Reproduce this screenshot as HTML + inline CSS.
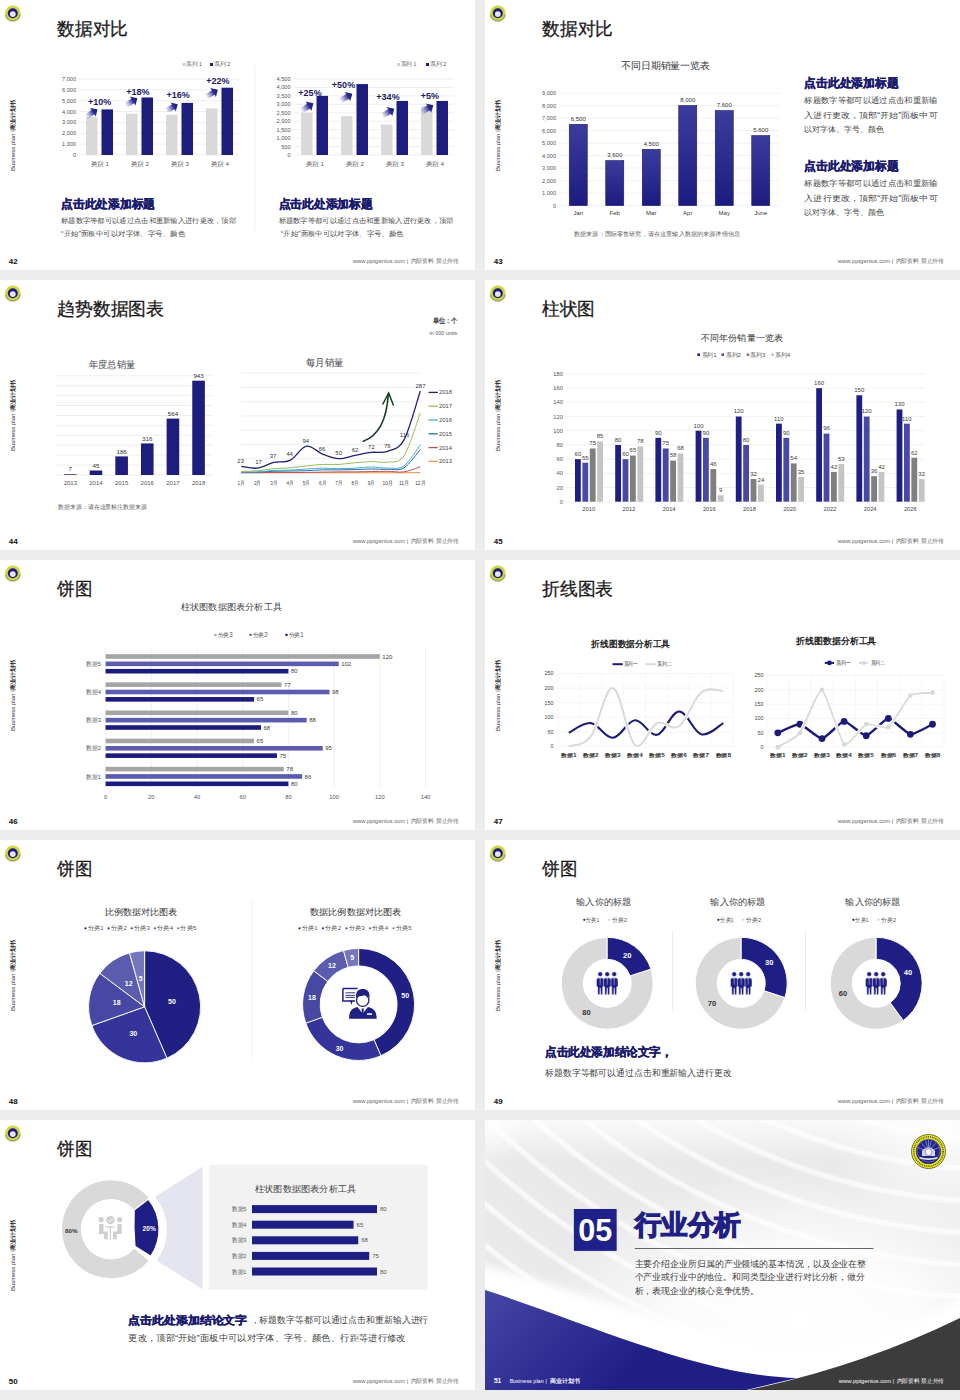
<!DOCTYPE html>
<html><head><meta charset="utf-8"><title>slides</title>
<style>
html,body{margin:0;padding:0;}
body{width:960px;height:1400px;background:#ececec;position:relative;overflow:hidden;font-family:"Liberation Sans",sans-serif;}
.s{position:absolute;width:475px;height:270px;background:#fff;overflow:hidden;}
.s svg{display:block;}
</style></head><body>
<div class="s" style="left:0px;top:0px"><svg width="475" height="270" viewBox="0 0 475 270" font-family="Liberation Sans, sans-serif"><defs>
<linearGradient id="ag" x1="0" y1="0" x2="1" y2="0"><stop offset="0" stop-color="#5a5ab8" stop-opacity="0"/><stop offset="0.35" stop-color="#4a4ab0" stop-opacity="0.55"/><stop offset="0.65" stop-color="#2a2a90"/><stop offset="1" stop-color="#1a1a78"/></linearGradient>
<linearGradient id="bg2" x1="0" y1="0" x2="0" y2="1"><stop offset="0" stop-color="#3b3c9c"/><stop offset="1" stop-color="#1c1c80"/></linearGradient>
</defs><circle cx="12.80" cy="13.30" r="7.90" fill="#cfd83e" /><path d="M5.6000000000000005,14.8 A7.3,7.3 0 0 0 20.0,14.8" fill="none" stroke="#a3a66a" stroke-width="1.6"/><circle cx="12.80" cy="13.30" r="5.00" fill="#1c1c7c" /><circle cx="12.80" cy="14.10" r="2.90" fill="#e6e6f0" /><text x="57.00" y="35.40" font-size="18" fill="#1a1a1a" textLength="71.00" lengthAdjust="spacingAndGlyphs" stroke="#1a1a1a" stroke-width="0.3">数据对比</text><g transform="translate(13,135.3) rotate(-90)"><text x="-35.70" y="1.96" font-size="5.6" fill="#333" textLength="37.30" lengthAdjust="spacingAndGlyphs">Business plan</text><line x1="4.20" y1="-2.20" x2="4.20" y2="2.40" stroke="#444" stroke-width="0.5" /><text x="5.80" y="2.03" font-size="5.8" fill="#222" font-weight="bold" textLength="29.80" lengthAdjust="spacingAndGlyphs">商业计划书</text></g><text x="8.70" y="263.50" font-size="8" fill="#111" font-weight="bold">42</text><text x="352.80" y="263.36" font-size="5.6" fill="#666" textLength="52.50" lengthAdjust="spacingAndGlyphs">www.pptgenius.com</text><text x="406.70" y="263.36" font-size="5.6" fill="#666">|</text><text x="410.50" y="263.36" font-size="5.6" fill="#666" textLength="48.70" lengthAdjust="spacingAndGlyphs">内部资料 禁止外传</text><line x1="79.00" y1="155.00" x2="239.00" y2="155.00" stroke="#e3e3e3" stroke-width="0.6" /><text x="76.00" y="156.96" font-size="5.6" fill="#555555" text-anchor="end">0</text><line x1="79.00" y1="144.14" x2="239.00" y2="144.14" stroke="#e3e3e3" stroke-width="0.6" /><text x="76.00" y="146.10" font-size="5.6" fill="#555555" text-anchor="end">1,000</text><line x1="79.00" y1="133.29" x2="239.00" y2="133.29" stroke="#e3e3e3" stroke-width="0.6" /><text x="76.00" y="135.25" font-size="5.6" fill="#555555" text-anchor="end">2,000</text><line x1="79.00" y1="122.43" x2="239.00" y2="122.43" stroke="#e3e3e3" stroke-width="0.6" /><text x="76.00" y="124.39" font-size="5.6" fill="#555555" text-anchor="end">3,000</text><line x1="79.00" y1="111.57" x2="239.00" y2="111.57" stroke="#e3e3e3" stroke-width="0.6" /><text x="76.00" y="113.53" font-size="5.6" fill="#555555" text-anchor="end">4,000</text><line x1="79.00" y1="100.71" x2="239.00" y2="100.71" stroke="#e3e3e3" stroke-width="0.6" /><text x="76.00" y="102.67" font-size="5.6" fill="#555555" text-anchor="end">5,000</text><line x1="79.00" y1="89.86" x2="239.00" y2="89.86" stroke="#e3e3e3" stroke-width="0.6" /><text x="76.00" y="91.82" font-size="5.6" fill="#555555" text-anchor="end">6,000</text><line x1="79.00" y1="79.00" x2="239.00" y2="79.00" stroke="#e3e3e3" stroke-width="0.6" /><text x="76.00" y="80.96" font-size="5.6" fill="#555555" text-anchor="end">7,000</text><rect x="86.00" y="117.00" width="11.50" height="38.00" fill="#d9d9d9" /><rect x="101.50" y="109.40" width="11.50" height="45.60" fill="#1d1d7e" /><text x="100.00" y="165.53" font-size="5.8" fill="#555555" text-anchor="middle" textLength="18.00" lengthAdjust="spacingAndGlyphs">类别 1</text><rect x="126.00" y="113.74" width="11.50" height="41.26" fill="#d9d9d9" /><rect x="141.50" y="97.46" width="11.50" height="57.54" fill="#1d1d7e" /><text x="140.00" y="165.53" font-size="5.8" fill="#555555" text-anchor="middle" textLength="18.00" lengthAdjust="spacingAndGlyphs">类别 2</text><rect x="166.00" y="114.83" width="11.50" height="40.17" fill="#d9d9d9" /><rect x="181.50" y="102.89" width="11.50" height="52.11" fill="#1d1d7e" /><text x="180.00" y="165.53" font-size="5.8" fill="#555555" text-anchor="middle" textLength="18.00" lengthAdjust="spacingAndGlyphs">类别 3</text><rect x="206.00" y="108.31" width="11.50" height="46.69" fill="#d9d9d9" /><rect x="221.50" y="87.69" width="11.50" height="67.31" fill="#1d1d7e" /><text x="220.00" y="165.53" font-size="5.8" fill="#555555" text-anchor="middle" textLength="18.00" lengthAdjust="spacingAndGlyphs">类别 4</text><text x="99.60" y="104.95" font-size="9" fill="#1b1b66" font-weight="bold" text-anchor="middle">+10%</text><text x="137.80" y="94.95" font-size="9" fill="#1b1b66" font-weight="bold" text-anchor="middle">+18%</text><text x="178.20" y="98.15" font-size="9" fill="#1b1b66" font-weight="bold" text-anchor="middle">+16%</text><text x="217.80" y="84.45" font-size="9" fill="#1b1b66" font-weight="bold" text-anchor="middle">+22%</text><g transform="translate(86.00,117.00) rotate(-34.6) scale(1.152)"><path d="M0,-2.2 L7.4,-2.4 L7.2,-4.6 L12,0 L7.2,4.6 L7.4,2.4 L0,2.2 Z" fill="url(#ag)"/></g><g transform="translate(125.50,105.50) rotate(-31.7) scale(1.158)"><path d="M0,-2.2 L7.4,-2.4 L7.2,-4.6 L12,0 L7.2,4.6 L7.4,2.4 L0,2.2 Z" fill="url(#ag)"/></g><g transform="translate(166.00,111.00) rotate(-30.0) scale(1.133)"><path d="M0,-2.2 L7.4,-2.4 L7.2,-4.6 L12,0 L7.2,4.6 L7.4,2.4 L0,2.2 Z" fill="url(#ag)"/></g><g transform="translate(206.00,97.00) rotate(-31.7) scale(1.158)"><path d="M0,-2.2 L7.4,-2.4 L7.2,-4.6 L12,0 L7.2,4.6 L7.4,2.4 L0,2.2 Z" fill="url(#ag)"/></g><line x1="294.00" y1="155.00" x2="454.00" y2="155.00" stroke="#e3e3e3" stroke-width="0.6" /><text x="290.50" y="156.96" font-size="5.6" fill="#555555" text-anchor="end">0</text><line x1="294.00" y1="146.56" x2="454.00" y2="146.56" stroke="#e3e3e3" stroke-width="0.6" /><text x="290.50" y="148.52" font-size="5.6" fill="#555555" text-anchor="end">500</text><line x1="294.00" y1="138.11" x2="454.00" y2="138.11" stroke="#e3e3e3" stroke-width="0.6" /><text x="290.50" y="140.07" font-size="5.6" fill="#555555" text-anchor="end">1,000</text><line x1="294.00" y1="129.67" x2="454.00" y2="129.67" stroke="#e3e3e3" stroke-width="0.6" /><text x="290.50" y="131.63" font-size="5.6" fill="#555555" text-anchor="end">1,500</text><line x1="294.00" y1="121.22" x2="454.00" y2="121.22" stroke="#e3e3e3" stroke-width="0.6" /><text x="290.50" y="123.18" font-size="5.6" fill="#555555" text-anchor="end">2,000</text><line x1="294.00" y1="112.78" x2="454.00" y2="112.78" stroke="#e3e3e3" stroke-width="0.6" /><text x="290.50" y="114.74" font-size="5.6" fill="#555555" text-anchor="end">2,500</text><line x1="294.00" y1="104.33" x2="454.00" y2="104.33" stroke="#e3e3e3" stroke-width="0.6" /><text x="290.50" y="106.29" font-size="5.6" fill="#555555" text-anchor="end">3,000</text><line x1="294.00" y1="95.89" x2="454.00" y2="95.89" stroke="#e3e3e3" stroke-width="0.6" /><text x="290.50" y="97.85" font-size="5.6" fill="#555555" text-anchor="end">3,500</text><line x1="294.00" y1="87.44" x2="454.00" y2="87.44" stroke="#e3e3e3" stroke-width="0.6" /><text x="290.50" y="89.40" font-size="5.6" fill="#555555" text-anchor="end">4,000</text><line x1="294.00" y1="79.00" x2="454.00" y2="79.00" stroke="#e3e3e3" stroke-width="0.6" /><text x="290.50" y="80.96" font-size="5.6" fill="#555555" text-anchor="end">4,500</text><rect x="301.00" y="112.78" width="11.50" height="42.22" fill="#d9d9d9" /><rect x="316.50" y="95.89" width="11.50" height="59.11" fill="#1d1d7e" /><text x="315.00" y="165.53" font-size="5.8" fill="#555555" text-anchor="middle" textLength="18.00" lengthAdjust="spacingAndGlyphs">类别 1</text><rect x="341.00" y="116.16" width="11.50" height="38.84" fill="#d9d9d9" /><rect x="356.50" y="84.07" width="11.50" height="70.93" fill="#1d1d7e" /><text x="355.00" y="165.53" font-size="5.8" fill="#555555" text-anchor="middle" textLength="18.00" lengthAdjust="spacingAndGlyphs">类别 2</text><rect x="381.00" y="124.60" width="11.50" height="30.40" fill="#d9d9d9" /><rect x="396.50" y="100.96" width="11.50" height="54.04" fill="#1d1d7e" /><text x="395.00" y="165.53" font-size="5.8" fill="#555555" text-anchor="middle" textLength="18.00" lengthAdjust="spacingAndGlyphs">类别 3</text><rect x="421.00" y="106.02" width="11.50" height="48.98" fill="#d9d9d9" /><rect x="436.50" y="100.96" width="11.50" height="54.04" fill="#1d1d7e" /><text x="435.00" y="165.53" font-size="5.8" fill="#555555" text-anchor="middle" textLength="18.00" lengthAdjust="spacingAndGlyphs">类别 4</text><text x="310.00" y="95.65" font-size="9" fill="#1b1b66" font-weight="bold" text-anchor="middle">+25%</text><text x="343.50" y="88.15" font-size="9" fill="#1b1b66" font-weight="bold" text-anchor="middle">+50%</text><text x="388.00" y="100.15" font-size="9" fill="#1b1b66" font-weight="bold" text-anchor="middle">+34%</text><text x="430.00" y="99.15" font-size="9" fill="#1b1b66" font-weight="bold" text-anchor="middle">+5%</text><g transform="translate(301.00,111.00) rotate(-32.0) scale(1.217)"><path d="M0,-2.2 L7.4,-2.4 L7.2,-4.6 L12,0 L7.2,4.6 L7.4,2.4 L0,2.2 Z" fill="url(#ag)"/></g><g transform="translate(340.00,101.00) rotate(-30.5) scale(1.192)"><path d="M0,-2.2 L7.4,-2.4 L7.2,-4.6 L12,0 L7.2,4.6 L7.4,2.4 L0,2.2 Z" fill="url(#ag)"/></g><g transform="translate(382.00,116.00) rotate(-30.5) scale(1.192)"><path d="M0,-2.2 L7.4,-2.4 L7.2,-4.6 L12,0 L7.2,4.6 L7.4,2.4 L0,2.2 Z" fill="url(#ag)"/></g><g transform="translate(421.00,112.50) rotate(-30.5) scale(1.192)"><path d="M0,-2.2 L7.4,-2.4 L7.2,-4.6 L12,0 L7.2,4.6 L7.4,2.4 L0,2.2 Z" fill="url(#ag)"/></g><rect x="182.50" y="63.00" width="3.00" height="3.00" fill="#d0d0d0" /><text x="186.00" y="66.46" font-size="5.6" fill="#666" textLength="16.00" lengthAdjust="spacingAndGlyphs">系列 1</text><rect x="210.00" y="63.00" width="3.00" height="3.00" fill="#1d1d7e" /><text x="213.50" y="66.46" font-size="5.6" fill="#666" textLength="17.00" lengthAdjust="spacingAndGlyphs">系列 2</text><rect x="397.00" y="63.00" width="3.00" height="3.00" fill="#d0d0d0" /><text x="400.50" y="66.46" font-size="5.6" fill="#666" textLength="16.00" lengthAdjust="spacingAndGlyphs">系列 1</text><rect x="426.00" y="63.00" width="3.00" height="3.00" fill="#1d1d7e" /><text x="429.50" y="66.46" font-size="5.6" fill="#666" textLength="17.00" lengthAdjust="spacingAndGlyphs">系列 2</text><line x1="255.00" y1="64.50" x2="255.00" y2="231.50" stroke="#ebebeb" stroke-width="0.8" /><text x="61.00" y="207.72" font-size="11.5" fill="#1b1b6e" font-weight="bold" textLength="94.00" lengthAdjust="spacingAndGlyphs" stroke="#1b1b6e" stroke-width="0.4">点击此处添加标题</text><text x="61.00" y="222.52" font-size="7.2" fill="#4a4a4a" textLength="175.00" lengthAdjust="spacingAndGlyphs">标题数字等都可以通过点击和重新输入进行更改，顶部</text><text x="61.00" y="235.52" font-size="7.2" fill="#4a4a4a" textLength="124.00" lengthAdjust="spacingAndGlyphs">“开始”面板中可以对字体、字号、颜色</text><text x="278.60" y="207.72" font-size="11.5" fill="#1b1b6e" font-weight="bold" textLength="94.00" lengthAdjust="spacingAndGlyphs" stroke="#1b1b6e" stroke-width="0.4">点击此处添加标题</text><text x="278.60" y="222.52" font-size="7.2" fill="#4a4a4a" textLength="175.00" lengthAdjust="spacingAndGlyphs">标题数字等都可以通过点击和重新输入进行更改，顶部</text><text x="280.80" y="235.52" font-size="7.2" fill="#4a4a4a" textLength="122.50" lengthAdjust="spacingAndGlyphs">“开始”面板中可以对字体、字号、颜色</text></svg></div><div class="s" style="left:485px;top:0px"><svg width="475" height="270" viewBox="485 0 475 270" font-family="Liberation Sans, sans-serif"><circle cx="497.80" cy="13.30" r="7.90" fill="#cfd83e" /><path d="M490.6,14.8 A7.3,7.3 0 0 0 505.0,14.8" fill="none" stroke="#a3a66a" stroke-width="1.6"/><circle cx="497.80" cy="13.30" r="5.00" fill="#1c1c7c" /><circle cx="497.80" cy="14.10" r="2.90" fill="#e6e6f0" /><text x="542.00" y="35.40" font-size="18" fill="#1a1a1a" textLength="71.00" lengthAdjust="spacingAndGlyphs" stroke="#1a1a1a" stroke-width="0.3">数据对比</text><g transform="translate(498,135.3) rotate(-90)"><text x="-35.70" y="1.96" font-size="5.6" fill="#333" textLength="37.30" lengthAdjust="spacingAndGlyphs">Business plan</text><line x1="4.20" y1="-2.20" x2="4.20" y2="2.40" stroke="#444" stroke-width="0.5" /><text x="5.80" y="2.03" font-size="5.8" fill="#222" font-weight="bold" textLength="29.80" lengthAdjust="spacingAndGlyphs">商业计划书</text></g><text x="493.70" y="263.50" font-size="8" fill="#111" font-weight="bold">43</text><text x="837.80" y="263.36" font-size="5.6" fill="#666" textLength="52.50" lengthAdjust="spacingAndGlyphs">www.pptgenius.com</text><text x="891.70" y="263.36" font-size="5.6" fill="#666">|</text><text x="895.50" y="263.36" font-size="5.6" fill="#666" textLength="48.70" lengthAdjust="spacingAndGlyphs">内部资料 禁止外传</text><text x="665.50" y="69.36" font-size="9.6" fill="#333" text-anchor="middle" textLength="89.00" lengthAdjust="spacingAndGlyphs">不同日期销量一览表</text><line x1="560.00" y1="205.60" x2="779.00" y2="205.60" stroke="#e6e6e6" stroke-width="0.6" /><text x="556.00" y="207.56" font-size="5.6" fill="#555555" text-anchor="end">0</text><line x1="560.00" y1="193.10" x2="779.00" y2="193.10" stroke="#e6e6e6" stroke-width="0.6" /><text x="556.00" y="195.06" font-size="5.6" fill="#555555" text-anchor="end">1,000</text><line x1="560.00" y1="180.60" x2="779.00" y2="180.60" stroke="#e6e6e6" stroke-width="0.6" /><text x="556.00" y="182.56" font-size="5.6" fill="#555555" text-anchor="end">2,000</text><line x1="560.00" y1="168.10" x2="779.00" y2="168.10" stroke="#e6e6e6" stroke-width="0.6" /><text x="556.00" y="170.06" font-size="5.6" fill="#555555" text-anchor="end">3,000</text><line x1="560.00" y1="155.60" x2="779.00" y2="155.60" stroke="#e6e6e6" stroke-width="0.6" /><text x="556.00" y="157.56" font-size="5.6" fill="#555555" text-anchor="end">4,000</text><line x1="560.00" y1="143.10" x2="779.00" y2="143.10" stroke="#e6e6e6" stroke-width="0.6" /><text x="556.00" y="145.06" font-size="5.6" fill="#555555" text-anchor="end">5,000</text><line x1="560.00" y1="130.60" x2="779.00" y2="130.60" stroke="#e6e6e6" stroke-width="0.6" /><text x="556.00" y="132.56" font-size="5.6" fill="#555555" text-anchor="end">6,000</text><line x1="560.00" y1="118.10" x2="779.00" y2="118.10" stroke="#e6e6e6" stroke-width="0.6" /><text x="556.00" y="120.06" font-size="5.6" fill="#555555" text-anchor="end">7,000</text><line x1="560.00" y1="105.60" x2="779.00" y2="105.60" stroke="#e6e6e6" stroke-width="0.6" /><text x="556.00" y="107.56" font-size="5.6" fill="#555555" text-anchor="end">8,000</text><line x1="560.00" y1="93.10" x2="779.00" y2="93.10" stroke="#e6e6e6" stroke-width="0.6" /><text x="556.00" y="95.06" font-size="5.6" fill="#555555" text-anchor="end">9,000</text><rect x="569.25" y="124.35" width="18.00" height="81.25" fill="url(#bg2)" stroke="#141470" stroke-width="0.6"/><text x="578.25" y="120.95" font-size="6" fill="#333" text-anchor="middle">6,500</text><text x="578.25" y="215.10" font-size="6" fill="#333" text-anchor="middle">Jan</text><rect x="605.75" y="160.60" width="18.00" height="45.00" fill="url(#bg2)" stroke="#141470" stroke-width="0.6"/><text x="614.75" y="157.20" font-size="6" fill="#333" text-anchor="middle">3,600</text><text x="614.75" y="215.10" font-size="6" fill="#333" text-anchor="middle">Feb</text><rect x="642.25" y="149.35" width="18.00" height="56.25" fill="url(#bg2)" stroke="#141470" stroke-width="0.6"/><text x="651.25" y="145.95" font-size="6" fill="#333" text-anchor="middle">4,500</text><text x="651.25" y="215.10" font-size="6" fill="#333" text-anchor="middle">Mar</text><rect x="678.75" y="105.60" width="18.00" height="100.00" fill="url(#bg2)" stroke="#141470" stroke-width="0.6"/><text x="687.75" y="102.20" font-size="6" fill="#333" text-anchor="middle">8,000</text><text x="687.75" y="215.10" font-size="6" fill="#333" text-anchor="middle">Apr</text><rect x="715.25" y="110.60" width="18.00" height="95.00" fill="url(#bg2)" stroke="#141470" stroke-width="0.6"/><text x="724.25" y="107.20" font-size="6" fill="#333" text-anchor="middle">7,600</text><text x="724.25" y="215.10" font-size="6" fill="#333" text-anchor="middle">May</text><rect x="751.75" y="135.60" width="18.00" height="70.00" fill="url(#bg2)" stroke="#141470" stroke-width="0.6"/><text x="760.75" y="132.20" font-size="6" fill="#333" text-anchor="middle">5,600</text><text x="760.75" y="215.10" font-size="6" fill="#333" text-anchor="middle">June</text><text x="574.00" y="236.03" font-size="5.8" fill="#555" textLength="166.00" lengthAdjust="spacingAndGlyphs">数据来源：国际零售研究，请在这里输入数据的来源详情信息</text><text x="804.40" y="86.86" font-size="11.6" fill="#1b1b6e" font-weight="bold" textLength="94.20" lengthAdjust="spacingAndGlyphs" stroke="#1b1b6e" stroke-width="0.4">点击此处添加标题</text><text x="804.40" y="103.17" font-size="8.2" fill="#444" textLength="133.20" lengthAdjust="spacingAndGlyphs">标题数字等都可以通过点击和重新输</text><text x="804.40" y="117.77" font-size="8.2" fill="#444" textLength="133.20" lengthAdjust="spacingAndGlyphs">入进行更改，顶部“开始”面板中可</text><text x="804.40" y="132.27" font-size="8.2" fill="#444" textLength="79.50" lengthAdjust="spacingAndGlyphs">以对字体、字号、颜色</text><text x="804.40" y="169.86" font-size="11.6" fill="#1b1b6e" font-weight="bold" textLength="94.20" lengthAdjust="spacingAndGlyphs" stroke="#1b1b6e" stroke-width="0.4">点击此处添加标题</text><text x="804.40" y="185.87" font-size="8.2" fill="#444" textLength="133.20" lengthAdjust="spacingAndGlyphs">标题数字等都可以通过点击和重新输</text><text x="804.40" y="200.67" font-size="8.2" fill="#444" textLength="133.20" lengthAdjust="spacingAndGlyphs">入进行更改，顶部“开始”面板中可</text><text x="804.40" y="215.07" font-size="8.2" fill="#444" textLength="79.50" lengthAdjust="spacingAndGlyphs">以对字体、字号、颜色</text></svg></div><div class="s" style="left:0px;top:280px"><svg width="475" height="270" viewBox="0 280 475 270" font-family="Liberation Sans, sans-serif"><circle cx="12.80" cy="293.30" r="7.90" fill="#cfd83e" /><path d="M5.6000000000000005,294.8 A7.3,7.3 0 0 0 20.0,294.8" fill="none" stroke="#a3a66a" stroke-width="1.6"/><circle cx="12.80" cy="293.30" r="5.00" fill="#1c1c7c" /><circle cx="12.80" cy="294.10" r="2.90" fill="#e6e6f0" /><text x="57.00" y="315.40" font-size="18" fill="#1a1a1a" textLength="107.00" lengthAdjust="spacingAndGlyphs" stroke="#1a1a1a" stroke-width="0.3">趋势数据图表</text><g transform="translate(13,415.3) rotate(-90)"><text x="-35.70" y="1.96" font-size="5.6" fill="#333" textLength="37.30" lengthAdjust="spacingAndGlyphs">Business plan</text><line x1="4.20" y1="-2.20" x2="4.20" y2="2.40" stroke="#444" stroke-width="0.5" /><text x="5.80" y="2.03" font-size="5.8" fill="#222" font-weight="bold" textLength="29.80" lengthAdjust="spacingAndGlyphs">商业计划书</text></g><text x="8.70" y="543.50" font-size="8" fill="#111" font-weight="bold">44</text><text x="352.80" y="543.36" font-size="5.6" fill="#666" textLength="52.50" lengthAdjust="spacingAndGlyphs">www.pptgenius.com</text><text x="406.70" y="543.36" font-size="5.6" fill="#666">|</text><text x="410.50" y="543.36" font-size="5.6" fill="#666" textLength="48.70" lengthAdjust="spacingAndGlyphs">内部资料 禁止外传</text><text x="112.00" y="368.32" font-size="9.5" fill="#444" text-anchor="middle" textLength="46.00" lengthAdjust="spacingAndGlyphs">年度总销量</text><line x1="56.00" y1="475.00" x2="212.50" y2="475.00" stroke="#e3e3e3" stroke-width="0.6" /><line x1="56.00" y1="465.07" x2="212.50" y2="465.07" stroke="#e3e3e3" stroke-width="0.6" /><line x1="56.00" y1="455.15" x2="212.50" y2="455.15" stroke="#e3e3e3" stroke-width="0.6" /><line x1="56.00" y1="445.23" x2="212.50" y2="445.23" stroke="#e3e3e3" stroke-width="0.6" /><line x1="56.00" y1="435.30" x2="212.50" y2="435.30" stroke="#e3e3e3" stroke-width="0.6" /><line x1="56.00" y1="425.38" x2="212.50" y2="425.38" stroke="#e3e3e3" stroke-width="0.6" /><line x1="56.00" y1="415.45" x2="212.50" y2="415.45" stroke="#e3e3e3" stroke-width="0.6" /><line x1="56.00" y1="405.52" x2="212.50" y2="405.52" stroke="#e3e3e3" stroke-width="0.6" /><line x1="56.00" y1="395.60" x2="212.50" y2="395.60" stroke="#e3e3e3" stroke-width="0.6" /><line x1="56.00" y1="385.68" x2="212.50" y2="385.68" stroke="#e3e3e3" stroke-width="0.6" /><line x1="56.00" y1="375.75" x2="212.50" y2="375.75" stroke="#e3e3e3" stroke-width="0.6" /><rect x="64.03" y="474.30" width="12.60" height="0.70" fill="#1d1d7e" /><text x="70.33" y="471.47" font-size="6.2" fill="#333" text-anchor="middle">7</text><text x="70.33" y="484.70" font-size="6" fill="#555" text-anchor="middle">2013</text><rect x="89.67" y="470.50" width="12.60" height="4.50" fill="#1d1d7e" /><text x="95.97" y="467.67" font-size="6.2" fill="#333" text-anchor="middle">45</text><text x="95.97" y="484.70" font-size="6" fill="#555" text-anchor="middle">2014</text><rect x="115.33" y="456.40" width="12.60" height="18.60" fill="#1d1d7e" /><text x="121.62" y="453.57" font-size="6.2" fill="#333" text-anchor="middle">186</text><text x="121.62" y="484.70" font-size="6" fill="#555" text-anchor="middle">2015</text><rect x="140.97" y="443.40" width="12.60" height="31.60" fill="#1d1d7e" /><text x="147.27" y="440.57" font-size="6.2" fill="#333" text-anchor="middle">316</text><text x="147.27" y="484.70" font-size="6" fill="#555" text-anchor="middle">2016</text><rect x="166.62" y="418.60" width="12.60" height="56.40" fill="#1d1d7e" /><text x="172.93" y="415.77" font-size="6.2" fill="#333" text-anchor="middle">564</text><text x="172.93" y="484.70" font-size="6" fill="#555" text-anchor="middle">2017</text><rect x="192.27" y="380.70" width="12.60" height="94.30" fill="#1d1d7e" /><text x="198.57" y="377.87" font-size="6.2" fill="#333" text-anchor="middle">943</text><text x="198.57" y="484.70" font-size="6" fill="#555" text-anchor="middle">2018</text><text x="58.00" y="508.83" font-size="5.8" fill="#555" textLength="89.00" lengthAdjust="spacingAndGlyphs">数据来源：请在这里标注数据来源</text><text x="457.70" y="323.27" font-size="6.5" fill="#333" font-weight="bold" text-anchor="end" textLength="25.00" lengthAdjust="spacingAndGlyphs">单位：个</text><text x="457.20" y="334.59" font-size="5.4" fill="#555" text-anchor="end">in 000 units</text><text x="324.70" y="366.32" font-size="9.5" fill="#444" text-anchor="middle" textLength="37.50" lengthAdjust="spacingAndGlyphs">每月销量</text><line x1="240.70" y1="473.00" x2="421.90" y2="473.00" stroke="#e3e3e3" stroke-width="0.6" /><line x1="240.70" y1="458.71" x2="421.90" y2="458.71" stroke="#e3e3e3" stroke-width="0.6" /><line x1="240.70" y1="444.43" x2="421.90" y2="444.43" stroke="#e3e3e3" stroke-width="0.6" /><line x1="240.70" y1="430.14" x2="421.90" y2="430.14" stroke="#e3e3e3" stroke-width="0.6" /><line x1="240.70" y1="415.86" x2="421.90" y2="415.86" stroke="#e3e3e3" stroke-width="0.6" /><line x1="240.70" y1="401.57" x2="421.90" y2="401.57" stroke="#e3e3e3" stroke-width="0.6" /><line x1="240.70" y1="387.29" x2="421.90" y2="387.29" stroke="#e3e3e3" stroke-width="0.6" /><line x1="240.70" y1="373.00" x2="421.90" y2="373.00" stroke="#e3e3e3" stroke-width="0.6" /><text x="241.20" y="485.40" font-size="6" fill="#444" text-anchor="middle" textLength="7.20" lengthAdjust="spacingAndGlyphs">1月</text><text x="257.48" y="485.40" font-size="6" fill="#444" text-anchor="middle" textLength="7.20" lengthAdjust="spacingAndGlyphs">2月</text><text x="273.76" y="485.40" font-size="6" fill="#444" text-anchor="middle" textLength="7.20" lengthAdjust="spacingAndGlyphs">3月</text><text x="290.04" y="485.40" font-size="6" fill="#444" text-anchor="middle" textLength="7.20" lengthAdjust="spacingAndGlyphs">4月</text><text x="306.32" y="485.40" font-size="6" fill="#444" text-anchor="middle" textLength="7.20" lengthAdjust="spacingAndGlyphs">5月</text><text x="322.60" y="485.40" font-size="6" fill="#444" text-anchor="middle" textLength="7.20" lengthAdjust="spacingAndGlyphs">6月</text><text x="338.88" y="485.40" font-size="6" fill="#444" text-anchor="middle" textLength="7.20" lengthAdjust="spacingAndGlyphs">7月</text><text x="355.16" y="485.40" font-size="6" fill="#444" text-anchor="middle" textLength="7.20" lengthAdjust="spacingAndGlyphs">8月</text><text x="371.44" y="485.40" font-size="6" fill="#444" text-anchor="middle" textLength="7.20" lengthAdjust="spacingAndGlyphs">9月</text><text x="387.72" y="485.40" font-size="6" fill="#444" text-anchor="middle" textLength="10.20" lengthAdjust="spacingAndGlyphs">10月</text><text x="404.00" y="485.40" font-size="6" fill="#444" text-anchor="middle" textLength="10.20" lengthAdjust="spacingAndGlyphs">11月</text><text x="420.28" y="485.40" font-size="6" fill="#444" text-anchor="middle" textLength="10.20" lengthAdjust="spacingAndGlyphs">12月</text><path d="M241.20,472.71 C243.91,472.71 252.05,472.71 257.48,472.71 C262.91,472.71 268.33,472.71 273.76,472.71 C279.19,472.71 284.61,472.71 290.04,472.71 C295.47,472.71 300.89,472.71 306.32,472.71 C311.75,472.71 317.17,472.71 322.60,472.71 C328.03,472.71 333.45,472.71 338.88,472.71 C344.31,472.71 349.73,472.71 355.16,472.71 C360.59,472.71 366.01,472.71 371.44,472.71 C376.87,472.71 382.29,472.71 387.72,472.71 C393.15,472.71 398.57,472.76 404.00,472.71 C409.43,472.67 417.57,472.48 420.28,472.43" fill="none" stroke="#f79646" stroke-width="1.0"/><path d="M241.20,472.71 C243.91,472.71 252.05,472.76 257.48,472.71 C262.91,472.67 268.33,472.48 273.76,472.43 C279.19,472.38 284.61,472.43 290.04,472.43 C295.47,472.43 300.89,472.48 306.32,472.43 C311.75,472.38 317.17,472.24 322.60,472.14 C328.03,472.05 333.45,471.90 338.88,471.86 C344.31,471.81 349.73,471.90 355.16,471.86 C360.59,471.81 366.01,471.67 371.44,471.57 C376.87,471.48 382.29,471.24 387.72,471.29 C393.15,471.33 398.57,472.62 404.00,471.86 C409.43,471.10 417.57,467.57 420.28,466.71" fill="none" stroke="#c0504d" stroke-width="1.0"/><path d="M241.20,472.43 C243.91,472.38 252.05,472.33 257.48,472.14 C262.91,471.95 268.33,471.48 273.76,471.29 C279.19,471.10 284.61,471.10 290.04,471.00 C295.47,470.90 300.89,470.90 306.32,470.71 C311.75,470.52 317.17,470.00 322.60,469.86 C328.03,469.71 333.45,469.90 338.88,469.86 C344.31,469.81 349.73,469.71 355.16,469.57 C360.59,469.43 366.01,469.05 371.44,469.00 C376.87,468.95 382.29,469.48 387.72,469.29 C393.15,469.10 398.57,471.14 404.00,467.86 C409.43,464.57 417.57,452.62 420.28,449.57" fill="none" stroke="#1f6fb4" stroke-width="1.0"/><path d="M241.20,472.14 C243.91,472.10 252.05,472.14 257.48,471.86 C262.91,471.57 268.33,470.71 273.76,470.43 C279.19,470.14 284.61,470.38 290.04,470.14 C295.47,469.90 300.89,469.33 306.32,469.00 C311.75,468.67 317.17,468.19 322.60,468.14 C328.03,468.10 333.45,468.71 338.88,468.71 C344.31,468.71 349.73,468.43 355.16,468.14 C360.59,467.86 366.01,467.00 371.44,467.00 C376.87,467.00 382.29,468.33 387.72,468.14 C393.15,467.95 398.57,469.71 404.00,465.86 C409.43,462.00 417.57,448.48 420.28,445.00" fill="none" stroke="#4bacc6" stroke-width="1.0"/><path d="M241.20,471.57 C243.91,471.43 252.05,471.19 257.48,470.71 C262.91,470.24 268.33,469.19 273.76,468.71 C279.19,468.24 284.61,468.33 290.04,467.86 C295.47,467.38 300.89,466.43 306.32,465.86 C311.75,465.29 317.17,464.67 322.60,464.43 C328.03,464.19 333.45,464.71 338.88,464.43 C344.31,464.14 349.73,463.19 355.16,462.71 C360.59,462.24 366.01,461.67 371.44,461.57 C376.87,461.48 382.29,463.10 387.72,462.14 C393.15,461.19 398.57,464.05 404.00,455.86 C409.43,447.67 417.57,420.14 420.28,413.00" fill="none" stroke="#9bbb59" stroke-width="1.0"/><path d="M241.20,466.43 C243.91,466.71 252.05,468.81 257.48,468.14 C262.91,467.48 268.33,463.71 273.76,462.43 C279.19,461.14 284.61,463.14 290.04,460.43 C295.47,457.71 300.89,447.19 306.32,446.14 C311.75,445.10 317.17,452.05 322.60,454.14 C328.03,456.24 333.45,458.52 338.88,458.71 C344.31,458.90 349.73,456.33 355.16,455.29 C360.59,454.24 366.01,453.10 371.44,452.43 C376.87,451.76 382.29,453.38 387.72,451.29 C393.15,449.19 398.57,449.90 404.00,439.86 C409.43,429.81 417.57,399.14 420.28,391.00" fill="none" stroke="#1f1f7a" stroke-width="1.3"/><text x="240.70" y="462.80" font-size="6" fill="#333" text-anchor="middle">23</text><text x="258.50" y="464.10" font-size="6" fill="#333" text-anchor="middle">17</text><text x="273.00" y="458.10" font-size="6" fill="#333" text-anchor="middle">37</text><text x="289.60" y="456.10" font-size="6" fill="#333" text-anchor="middle">44</text><text x="305.80" y="442.90" font-size="6" fill="#333" text-anchor="middle">94</text><text x="322.00" y="450.80" font-size="6" fill="#333" text-anchor="middle">66</text><text x="338.70" y="454.80" font-size="6" fill="#333" text-anchor="middle">50</text><text x="355.00" y="452.10" font-size="6" fill="#333" text-anchor="middle">62</text><text x="371.40" y="449.00" font-size="6" fill="#333" text-anchor="middle">72</text><text x="387.30" y="447.60" font-size="6" fill="#333" text-anchor="middle">76</text><text x="404.60" y="437.10" font-size="6" fill="#333" text-anchor="middle">116</text><text x="420.50" y="387.60" font-size="6" fill="#333" text-anchor="middle">287</text><line x1="428.50" y1="392.40" x2="437.80" y2="392.40" stroke="#1f1f7a" stroke-width="1.3" /><text x="439.00" y="394.43" font-size="5.8" fill="#444">2018</text><line x1="428.50" y1="406.20" x2="437.80" y2="406.20" stroke="#9bbb59" stroke-width="1.3" /><text x="439.00" y="408.23" font-size="5.8" fill="#444">2017</text><line x1="428.50" y1="420.00" x2="437.80" y2="420.00" stroke="#4bacc6" stroke-width="1.3" /><text x="439.00" y="422.03" font-size="5.8" fill="#444">2016</text><line x1="428.50" y1="433.80" x2="437.80" y2="433.80" stroke="#1f6fb4" stroke-width="1.3" /><text x="439.00" y="435.83" font-size="5.8" fill="#444">2015</text><line x1="428.50" y1="447.60" x2="437.80" y2="447.60" stroke="#c0504d" stroke-width="1.3" /><text x="439.00" y="449.63" font-size="5.8" fill="#444">2014</text><line x1="428.50" y1="461.40" x2="437.80" y2="461.40" stroke="#f79646" stroke-width="1.3" /><text x="439.00" y="463.43" font-size="5.8" fill="#444">2013</text><path d="M363.3,441.3 C375,437 386.5,425 388.3,394" fill="none" stroke="#123d20" stroke-width="1.6" stroke-linecap="round"/><path d="M382.6,404.5 L388.7,393 L393.5,405.5" fill="none" stroke="#123d20" stroke-width="1.5" stroke-linejoin="miter"/></svg></div><div class="s" style="left:485px;top:280px"><svg width="475" height="270" viewBox="485 280 475 270" font-family="Liberation Sans, sans-serif"><circle cx="497.80" cy="293.30" r="7.90" fill="#cfd83e" /><path d="M490.6,294.8 A7.3,7.3 0 0 0 505.0,294.8" fill="none" stroke="#a3a66a" stroke-width="1.6"/><circle cx="497.80" cy="293.30" r="5.00" fill="#1c1c7c" /><circle cx="497.80" cy="294.10" r="2.90" fill="#e6e6f0" /><text x="542.00" y="315.40" font-size="18" fill="#1a1a1a" textLength="53.00" lengthAdjust="spacingAndGlyphs" stroke="#1a1a1a" stroke-width="0.3">柱状图</text><g transform="translate(498,415.3) rotate(-90)"><text x="-35.70" y="1.96" font-size="5.6" fill="#333" textLength="37.30" lengthAdjust="spacingAndGlyphs">Business plan</text><line x1="4.20" y1="-2.20" x2="4.20" y2="2.40" stroke="#444" stroke-width="0.5" /><text x="5.80" y="2.03" font-size="5.8" fill="#222" font-weight="bold" textLength="29.80" lengthAdjust="spacingAndGlyphs">商业计划书</text></g><text x="493.70" y="543.50" font-size="8" fill="#111" font-weight="bold">45</text><text x="837.80" y="543.36" font-size="5.6" fill="#666" textLength="52.50" lengthAdjust="spacingAndGlyphs">www.pptgenius.com</text><text x="891.70" y="543.36" font-size="5.6" fill="#666">|</text><text x="895.50" y="543.36" font-size="5.6" fill="#666" textLength="48.70" lengthAdjust="spacingAndGlyphs">内部资料 禁止外传</text><text x="742.00" y="341.45" font-size="9" fill="#333" text-anchor="middle" textLength="81.30" lengthAdjust="spacingAndGlyphs">不同年份销量一览表</text><rect x="697.40" y="353.40" width="2.60" height="2.60" fill="#1e1e84" /><text x="701.50" y="356.87" font-size="6.2" fill="#555" textLength="15.10" lengthAdjust="spacingAndGlyphs">系列1</text><rect x="721.50" y="353.40" width="2.60" height="2.60" fill="#4848a6" /><text x="725.50" y="356.87" font-size="6.2" fill="#555" textLength="15.50" lengthAdjust="spacingAndGlyphs">系列2</text><rect x="746.70" y="353.40" width="2.60" height="2.60" fill="#7f7f7f" /><text x="750.00" y="356.87" font-size="6.2" fill="#555" textLength="15.60" lengthAdjust="spacingAndGlyphs">系列3</text><rect x="771.30" y="353.40" width="2.60" height="2.60" fill="#c4c4c4" /><text x="774.80" y="356.87" font-size="6.2" fill="#555" textLength="15.40" lengthAdjust="spacingAndGlyphs">系列4</text><line x1="566.00" y1="501.70" x2="925.00" y2="501.70" stroke="#e8e8e8" stroke-width="0.6" /><text x="563.00" y="503.73" font-size="5.8" fill="#555555" text-anchor="end">0</text><line x1="566.00" y1="487.51" x2="925.00" y2="487.51" stroke="#e8e8e8" stroke-width="0.6" /><text x="563.00" y="489.54" font-size="5.8" fill="#555555" text-anchor="end">20</text><line x1="566.00" y1="473.32" x2="925.00" y2="473.32" stroke="#e8e8e8" stroke-width="0.6" /><text x="563.00" y="475.35" font-size="5.8" fill="#555555" text-anchor="end">40</text><line x1="566.00" y1="459.13" x2="925.00" y2="459.13" stroke="#e8e8e8" stroke-width="0.6" /><text x="563.00" y="461.16" font-size="5.8" fill="#555555" text-anchor="end">60</text><line x1="566.00" y1="444.94" x2="925.00" y2="444.94" stroke="#e8e8e8" stroke-width="0.6" /><text x="563.00" y="446.97" font-size="5.8" fill="#555555" text-anchor="end">80</text><line x1="566.00" y1="430.75" x2="925.00" y2="430.75" stroke="#e8e8e8" stroke-width="0.6" /><text x="563.00" y="432.78" font-size="5.8" fill="#555555" text-anchor="end">100</text><line x1="566.00" y1="416.56" x2="925.00" y2="416.56" stroke="#e8e8e8" stroke-width="0.6" /><text x="563.00" y="418.59" font-size="5.8" fill="#555555" text-anchor="end">120</text><line x1="566.00" y1="402.37" x2="925.00" y2="402.37" stroke="#e8e8e8" stroke-width="0.6" /><text x="563.00" y="404.40" font-size="5.8" fill="#555555" text-anchor="end">140</text><line x1="566.00" y1="388.18" x2="925.00" y2="388.18" stroke="#e8e8e8" stroke-width="0.6" /><text x="563.00" y="390.21" font-size="5.8" fill="#555555" text-anchor="end">160</text><line x1="566.00" y1="373.99" x2="925.00" y2="373.99" stroke="#e8e8e8" stroke-width="0.6" /><text x="563.00" y="376.02" font-size="5.8" fill="#555555" text-anchor="end">180</text><rect x="575.00" y="459.13" width="5.80" height="42.57" fill="#1e1e84" /><text x="577.90" y="456.03" font-size="6" fill="#404040" text-anchor="middle">60</text><rect x="582.40" y="462.68" width="5.80" height="39.02" fill="#4848a6" /><text x="585.30" y="459.58" font-size="6" fill="#404040" text-anchor="middle">55</text><rect x="589.80" y="448.49" width="5.80" height="53.21" fill="#7f7f7f" /><text x="592.70" y="445.39" font-size="6" fill="#404040" text-anchor="middle">75</text><rect x="597.20" y="441.39" width="5.80" height="60.31" fill="#c4c4c4" /><text x="600.10" y="438.29" font-size="6" fill="#404040" text-anchor="middle">85</text><text x="588.75" y="511.23" font-size="5.8" fill="#444" text-anchor="middle">2010</text><rect x="615.20" y="444.94" width="5.80" height="56.76" fill="#1e1e84" /><text x="618.10" y="441.84" font-size="6" fill="#404040" text-anchor="middle">80</text><rect x="622.60" y="459.13" width="5.80" height="42.57" fill="#4848a6" /><text x="625.50" y="456.03" font-size="6" fill="#404040" text-anchor="middle">60</text><rect x="630.00" y="455.58" width="5.80" height="46.12" fill="#7f7f7f" /><text x="632.90" y="452.48" font-size="6" fill="#404040" text-anchor="middle">65</text><rect x="637.40" y="446.36" width="5.80" height="55.34" fill="#c4c4c4" /><text x="640.30" y="443.26" font-size="6" fill="#404040" text-anchor="middle">78</text><text x="628.95" y="511.23" font-size="5.8" fill="#444" text-anchor="middle">2012</text><rect x="655.40" y="437.84" width="5.80" height="63.86" fill="#1e1e84" /><text x="658.30" y="434.75" font-size="6" fill="#404040" text-anchor="middle">90</text><rect x="662.80" y="448.49" width="5.80" height="53.21" fill="#4848a6" /><text x="665.70" y="445.39" font-size="6" fill="#404040" text-anchor="middle">75</text><rect x="670.20" y="460.55" width="5.80" height="41.15" fill="#7f7f7f" /><text x="673.10" y="457.45" font-size="6" fill="#404040" text-anchor="middle">58</text><rect x="677.60" y="453.45" width="5.80" height="48.25" fill="#c4c4c4" /><text x="680.50" y="450.35" font-size="6" fill="#404040" text-anchor="middle">68</text><text x="669.15" y="511.23" font-size="5.8" fill="#444" text-anchor="middle">2014</text><rect x="695.60" y="430.75" width="5.80" height="70.95" fill="#1e1e84" /><text x="698.50" y="427.65" font-size="6" fill="#404040" text-anchor="middle">100</text><rect x="703.00" y="437.84" width="5.80" height="63.86" fill="#4848a6" /><text x="705.90" y="434.75" font-size="6" fill="#404040" text-anchor="middle">90</text><rect x="710.40" y="469.06" width="5.80" height="32.64" fill="#7f7f7f" /><text x="713.30" y="465.96" font-size="6" fill="#404040" text-anchor="middle">46</text><rect x="717.80" y="495.31" width="5.80" height="6.39" fill="#c4c4c4" /><text x="720.70" y="492.21" font-size="6" fill="#404040" text-anchor="middle">9</text><text x="709.35" y="511.23" font-size="5.8" fill="#444" text-anchor="middle">2016</text><rect x="735.80" y="416.56" width="5.80" height="85.14" fill="#1e1e84" /><text x="738.70" y="413.46" font-size="6" fill="#404040" text-anchor="middle">120</text><rect x="743.20" y="444.94" width="5.80" height="56.76" fill="#4848a6" /><text x="746.10" y="441.84" font-size="6" fill="#404040" text-anchor="middle">80</text><rect x="750.60" y="479.00" width="5.80" height="22.70" fill="#7f7f7f" /><text x="753.50" y="475.90" font-size="6" fill="#404040" text-anchor="middle">32</text><rect x="758.00" y="484.67" width="5.80" height="17.03" fill="#c4c4c4" /><text x="760.90" y="481.57" font-size="6" fill="#404040" text-anchor="middle">24</text><text x="749.55" y="511.23" font-size="5.8" fill="#444" text-anchor="middle">2018</text><rect x="776.00" y="423.65" width="5.80" height="78.05" fill="#1e1e84" /><text x="778.90" y="420.56" font-size="6" fill="#404040" text-anchor="middle">110</text><rect x="783.40" y="437.84" width="5.80" height="63.86" fill="#4848a6" /><text x="786.30" y="434.75" font-size="6" fill="#404040" text-anchor="middle">90</text><rect x="790.80" y="463.39" width="5.80" height="38.31" fill="#7f7f7f" /><text x="793.70" y="460.29" font-size="6" fill="#404040" text-anchor="middle">54</text><rect x="798.20" y="476.87" width="5.80" height="24.83" fill="#c4c4c4" /><text x="801.10" y="473.77" font-size="6" fill="#404040" text-anchor="middle">35</text><text x="789.75" y="511.23" font-size="5.8" fill="#444" text-anchor="middle">2020</text><rect x="816.20" y="388.18" width="5.80" height="113.52" fill="#1e1e84" /><text x="819.10" y="385.08" font-size="6" fill="#404040" text-anchor="middle">160</text><rect x="823.60" y="433.59" width="5.80" height="68.11" fill="#4848a6" /><text x="826.50" y="430.49" font-size="6" fill="#404040" text-anchor="middle">96</text><rect x="831.00" y="471.90" width="5.80" height="29.80" fill="#7f7f7f" /><text x="833.90" y="468.80" font-size="6" fill="#404040" text-anchor="middle">42</text><rect x="838.40" y="464.10" width="5.80" height="37.60" fill="#c4c4c4" /><text x="841.30" y="461.00" font-size="6" fill="#404040" text-anchor="middle">53</text><text x="829.95" y="511.23" font-size="5.8" fill="#444" text-anchor="middle">2022</text><rect x="856.40" y="395.27" width="5.80" height="106.42" fill="#1e1e84" /><text x="859.30" y="392.18" font-size="6" fill="#404040" text-anchor="middle">150</text><rect x="863.80" y="416.56" width="5.80" height="85.14" fill="#4848a6" /><text x="866.70" y="413.46" font-size="6" fill="#404040" text-anchor="middle">120</text><rect x="871.20" y="476.16" width="5.80" height="25.54" fill="#7f7f7f" /><text x="874.10" y="473.06" font-size="6" fill="#404040" text-anchor="middle">36</text><rect x="878.60" y="471.90" width="5.80" height="29.80" fill="#c4c4c4" /><text x="881.50" y="468.80" font-size="6" fill="#404040" text-anchor="middle">42</text><text x="870.15" y="511.23" font-size="5.8" fill="#444" text-anchor="middle">2024</text><rect x="896.60" y="409.46" width="5.80" height="92.23" fill="#1e1e84" /><text x="899.50" y="406.37" font-size="6" fill="#404040" text-anchor="middle">130</text><rect x="904.00" y="423.65" width="5.80" height="78.05" fill="#4848a6" /><text x="906.90" y="420.56" font-size="6" fill="#404040" text-anchor="middle">110</text><rect x="911.40" y="457.71" width="5.80" height="43.99" fill="#7f7f7f" /><text x="914.30" y="454.61" font-size="6" fill="#404040" text-anchor="middle">62</text><rect x="918.80" y="479.00" width="5.80" height="22.70" fill="#c4c4c4" /><text x="921.70" y="475.90" font-size="6" fill="#404040" text-anchor="middle">32</text><text x="910.35" y="511.23" font-size="5.8" fill="#444" text-anchor="middle">2026</text></svg></div><div class="s" style="left:0px;top:560px"><svg width="475" height="270" viewBox="0 560 475 270" font-family="Liberation Sans, sans-serif"><circle cx="12.80" cy="573.30" r="7.90" fill="#cfd83e" /><path d="M5.6000000000000005,574.8 A7.3,7.3 0 0 0 20.0,574.8" fill="none" stroke="#a3a66a" stroke-width="1.6"/><circle cx="12.80" cy="573.30" r="5.00" fill="#1c1c7c" /><circle cx="12.80" cy="574.10" r="2.90" fill="#e6e6f0" /><text x="57.00" y="595.40" font-size="18" fill="#1a1a1a" textLength="35.00" lengthAdjust="spacingAndGlyphs" stroke="#1a1a1a" stroke-width="0.3">饼图</text><g transform="translate(13,695.3) rotate(-90)"><text x="-35.70" y="1.96" font-size="5.6" fill="#333" textLength="37.30" lengthAdjust="spacingAndGlyphs">Business plan</text><line x1="4.20" y1="-2.20" x2="4.20" y2="2.40" stroke="#444" stroke-width="0.5" /><text x="5.80" y="2.03" font-size="5.8" fill="#222" font-weight="bold" textLength="29.80" lengthAdjust="spacingAndGlyphs">商业计划书</text></g><text x="8.70" y="823.50" font-size="8" fill="#111" font-weight="bold">46</text><text x="352.80" y="823.36" font-size="5.6" fill="#666" textLength="52.50" lengthAdjust="spacingAndGlyphs">www.pptgenius.com</text><text x="406.70" y="823.36" font-size="5.6" fill="#666">|</text><text x="410.50" y="823.36" font-size="5.6" fill="#666" textLength="48.70" lengthAdjust="spacingAndGlyphs">内部资料 禁止外传</text><text x="231.40" y="609.85" font-size="9" fill="#444" text-anchor="middle" textLength="101.20" lengthAdjust="spacingAndGlyphs">柱状图数据图表分析工具</text><rect x="214.40" y="633.80" width="2.20" height="2.20" fill="#a5a5a5" /><text x="217.60" y="637.21" font-size="6.3" fill="#555" textLength="15.20" lengthAdjust="spacingAndGlyphs">分类3</text><rect x="249.40" y="633.80" width="2.20" height="2.20" fill="#5b5bb0" /><text x="252.60" y="637.21" font-size="6.3" fill="#555" textLength="15.20" lengthAdjust="spacingAndGlyphs">分类2</text><rect x="285.40" y="633.80" width="2.20" height="2.20" fill="#1b1b7e" /><text x="288.60" y="637.21" font-size="6.3" fill="#555" textLength="15.20" lengthAdjust="spacingAndGlyphs">分类1</text><line x1="105.60" y1="648.00" x2="105.60" y2="788.00" stroke="#e6e6e6" stroke-width="0.6" /><text x="105.60" y="799.03" font-size="5.8" fill="#555555" text-anchor="middle">0</text><line x1="151.30" y1="648.00" x2="151.30" y2="788.00" stroke="#e6e6e6" stroke-width="0.6" /><text x="151.30" y="799.03" font-size="5.8" fill="#555555" text-anchor="middle">20</text><line x1="197.00" y1="648.00" x2="197.00" y2="788.00" stroke="#e6e6e6" stroke-width="0.6" /><text x="197.00" y="799.03" font-size="5.8" fill="#555555" text-anchor="middle">40</text><line x1="242.70" y1="648.00" x2="242.70" y2="788.00" stroke="#e6e6e6" stroke-width="0.6" /><text x="242.70" y="799.03" font-size="5.8" fill="#555555" text-anchor="middle">60</text><line x1="288.40" y1="648.00" x2="288.40" y2="788.00" stroke="#e6e6e6" stroke-width="0.6" /><text x="288.40" y="799.03" font-size="5.8" fill="#555555" text-anchor="middle">80</text><line x1="334.10" y1="648.00" x2="334.10" y2="788.00" stroke="#e6e6e6" stroke-width="0.6" /><text x="334.10" y="799.03" font-size="5.8" fill="#555555" text-anchor="middle">100</text><line x1="379.80" y1="648.00" x2="379.80" y2="788.00" stroke="#e6e6e6" stroke-width="0.6" /><text x="379.80" y="799.03" font-size="5.8" fill="#555555" text-anchor="middle">120</text><line x1="425.50" y1="648.00" x2="425.50" y2="788.00" stroke="#e6e6e6" stroke-width="0.6" /><text x="425.50" y="799.03" font-size="5.8" fill="#555555" text-anchor="middle">140</text><rect x="105.60" y="654.20" width="274.20" height="4.60" fill="#a5a5a5" /><text x="382.30" y="658.60" font-size="6" fill="#404040">120</text><rect x="105.60" y="661.55" width="233.07" height="4.60" fill="#5b5bb0" /><text x="341.17" y="665.95" font-size="6" fill="#404040">102</text><rect x="105.60" y="668.90" width="182.80" height="4.60" fill="#1b1b7e" /><text x="290.90" y="673.30" font-size="6" fill="#404040">80</text><text x="101.00" y="665.95" font-size="6" fill="#555" text-anchor="end" textLength="15.00" lengthAdjust="spacingAndGlyphs">数据5</text><rect x="105.60" y="682.35" width="175.95" height="4.60" fill="#a5a5a5" /><text x="284.05" y="686.75" font-size="6" fill="#404040">77</text><rect x="105.60" y="689.70" width="223.93" height="4.60" fill="#5b5bb0" /><text x="332.03" y="694.10" font-size="6" fill="#404040">98</text><rect x="105.60" y="697.05" width="148.53" height="4.60" fill="#1b1b7e" /><text x="256.62" y="701.45" font-size="6" fill="#404040">65</text><text x="101.00" y="694.10" font-size="6" fill="#555" text-anchor="end" textLength="15.00" lengthAdjust="spacingAndGlyphs">数据4</text><rect x="105.60" y="710.50" width="182.80" height="4.60" fill="#a5a5a5" /><text x="290.90" y="714.90" font-size="6" fill="#404040">80</text><rect x="105.60" y="717.85" width="201.08" height="4.60" fill="#5b5bb0" /><text x="309.18" y="722.25" font-size="6" fill="#404040">88</text><rect x="105.60" y="725.20" width="155.38" height="4.60" fill="#1b1b7e" /><text x="263.48" y="729.60" font-size="6" fill="#404040">68</text><text x="101.00" y="722.25" font-size="6" fill="#555" text-anchor="end" textLength="15.00" lengthAdjust="spacingAndGlyphs">数据3</text><rect x="105.60" y="738.65" width="148.53" height="4.60" fill="#a5a5a5" /><text x="256.62" y="743.05" font-size="6" fill="#404040">65</text><rect x="105.60" y="746.00" width="217.08" height="4.60" fill="#5b5bb0" /><text x="325.18" y="750.40" font-size="6" fill="#404040">95</text><rect x="105.60" y="753.35" width="171.38" height="4.60" fill="#1b1b7e" /><text x="279.48" y="757.75" font-size="6" fill="#404040">75</text><text x="101.00" y="750.40" font-size="6" fill="#555" text-anchor="end" textLength="15.00" lengthAdjust="spacingAndGlyphs">数据2</text><rect x="105.60" y="766.80" width="178.23" height="4.60" fill="#a5a5a5" /><text x="286.33" y="771.20" font-size="6" fill="#404040">78</text><rect x="105.60" y="774.15" width="196.51" height="4.60" fill="#5b5bb0" /><text x="304.61" y="778.55" font-size="6" fill="#404040">86</text><rect x="105.60" y="781.50" width="182.80" height="4.60" fill="#1b1b7e" /><text x="290.90" y="785.90" font-size="6" fill="#404040">80</text><text x="101.00" y="778.55" font-size="6" fill="#555" text-anchor="end" textLength="15.00" lengthAdjust="spacingAndGlyphs">数据1</text></svg></div><div class="s" style="left:485px;top:560px"><svg width="475" height="270" viewBox="485 560 475 270" font-family="Liberation Sans, sans-serif"><circle cx="497.80" cy="573.30" r="7.90" fill="#cfd83e" /><path d="M490.6,574.8 A7.3,7.3 0 0 0 505.0,574.8" fill="none" stroke="#a3a66a" stroke-width="1.6"/><circle cx="497.80" cy="573.30" r="5.00" fill="#1c1c7c" /><circle cx="497.80" cy="574.10" r="2.90" fill="#e6e6f0" /><text x="542.00" y="595.40" font-size="18" fill="#1a1a1a" textLength="71.00" lengthAdjust="spacingAndGlyphs" stroke="#1a1a1a" stroke-width="0.3">折线图表</text><g transform="translate(498,695.3) rotate(-90)"><text x="-35.70" y="1.96" font-size="5.6" fill="#333" textLength="37.30" lengthAdjust="spacingAndGlyphs">Business plan</text><line x1="4.20" y1="-2.20" x2="4.20" y2="2.40" stroke="#444" stroke-width="0.5" /><text x="5.80" y="2.03" font-size="5.8" fill="#222" font-weight="bold" textLength="29.80" lengthAdjust="spacingAndGlyphs">商业计划书</text></g><text x="493.70" y="823.50" font-size="8" fill="#111" font-weight="bold">47</text><text x="837.80" y="823.36" font-size="5.6" fill="#666" textLength="52.50" lengthAdjust="spacingAndGlyphs">www.pptgenius.com</text><text x="891.70" y="823.36" font-size="5.6" fill="#666">|</text><text x="895.50" y="823.36" font-size="5.6" fill="#666" textLength="48.70" lengthAdjust="spacingAndGlyphs">内部资料 禁止外传</text><text x="630.80" y="646.68" font-size="8.8" fill="#222" font-weight="bold" text-anchor="middle" textLength="78.80" lengthAdjust="spacingAndGlyphs">折线图数据分析工具</text><line x1="558.00" y1="746.50" x2="733.20" y2="746.50" stroke="#efefef" stroke-width="0.6" /><text x="553.50" y="748.39" font-size="5.4" fill="#444" text-anchor="end">0</text><line x1="558.00" y1="731.89" x2="733.20" y2="731.89" stroke="#efefef" stroke-width="0.6" /><text x="553.50" y="733.78" font-size="5.4" fill="#444" text-anchor="end">50</text><line x1="558.00" y1="717.28" x2="733.20" y2="717.28" stroke="#efefef" stroke-width="0.6" /><text x="553.50" y="719.17" font-size="5.4" fill="#444" text-anchor="end">100</text><line x1="558.00" y1="702.67" x2="733.20" y2="702.67" stroke="#efefef" stroke-width="0.6" /><text x="553.50" y="704.56" font-size="5.4" fill="#444" text-anchor="end">150</text><line x1="558.00" y1="688.06" x2="733.20" y2="688.06" stroke="#efefef" stroke-width="0.6" /><text x="553.50" y="689.95" font-size="5.4" fill="#444" text-anchor="end">200</text><line x1="558.00" y1="673.45" x2="733.20" y2="673.45" stroke="#efefef" stroke-width="0.6" /><text x="553.50" y="675.34" font-size="5.4" fill="#444" text-anchor="end">250</text><line x1="558.00" y1="673.45" x2="558.00" y2="746.50" stroke="#f2f2f2" stroke-width="0.6" /><line x1="579.90" y1="673.45" x2="579.90" y2="746.50" stroke="#f2f2f2" stroke-width="0.6" /><line x1="601.80" y1="673.45" x2="601.80" y2="746.50" stroke="#f2f2f2" stroke-width="0.6" /><line x1="623.70" y1="673.45" x2="623.70" y2="746.50" stroke="#f2f2f2" stroke-width="0.6" /><line x1="645.60" y1="673.45" x2="645.60" y2="746.50" stroke="#f2f2f2" stroke-width="0.6" /><line x1="667.50" y1="673.45" x2="667.50" y2="746.50" stroke="#f2f2f2" stroke-width="0.6" /><line x1="689.40" y1="673.45" x2="689.40" y2="746.50" stroke="#f2f2f2" stroke-width="0.6" /><line x1="711.30" y1="673.45" x2="711.30" y2="746.50" stroke="#f2f2f2" stroke-width="0.6" /><line x1="733.20" y1="673.45" x2="733.20" y2="746.50" stroke="#f2f2f2" stroke-width="0.6" /><text x="568.80" y="757.09" font-size="5.4" fill="#333" font-weight="bold" text-anchor="middle" textLength="15.50" lengthAdjust="spacingAndGlyphs">数据1</text><text x="590.87" y="757.09" font-size="5.4" fill="#333" font-weight="bold" text-anchor="middle" textLength="15.50" lengthAdjust="spacingAndGlyphs">数据2</text><text x="612.94" y="757.09" font-size="5.4" fill="#333" font-weight="bold" text-anchor="middle" textLength="15.50" lengthAdjust="spacingAndGlyphs">数据3</text><text x="635.01" y="757.09" font-size="5.4" fill="#333" font-weight="bold" text-anchor="middle" textLength="15.50" lengthAdjust="spacingAndGlyphs">数据4</text><text x="657.08" y="757.09" font-size="5.4" fill="#333" font-weight="bold" text-anchor="middle" textLength="15.50" lengthAdjust="spacingAndGlyphs">数据5</text><text x="679.15" y="757.09" font-size="5.4" fill="#333" font-weight="bold" text-anchor="middle" textLength="15.50" lengthAdjust="spacingAndGlyphs">数据6</text><text x="701.22" y="757.09" font-size="5.4" fill="#333" font-weight="bold" text-anchor="middle" textLength="15.50" lengthAdjust="spacingAndGlyphs">数据7</text><text x="723.29" y="757.09" font-size="5.4" fill="#333" font-weight="bold" text-anchor="middle" textLength="15.50" lengthAdjust="spacingAndGlyphs">数据8</text><path d="M568.80,732.77 C572.85,731.00 582.78,722.21 590.87,723.12 C598.96,724.03 604.85,738.27 612.94,737.73 C621.03,737.20 626.92,720.74 635.01,720.20 C643.10,719.67 648.99,736.42 657.08,734.81 C665.17,733.20 671.06,711.54 679.15,711.44 C687.24,711.33 693.13,732.08 701.22,734.23 C709.31,736.37 719.24,725.16 723.29,723.12" fill="none" stroke="#1c1c78" stroke-width="2.1"/><path d="M568.80,746.50 C572.85,744.63 582.78,746.99 590.87,736.27 C598.96,725.56 604.85,686.45 612.94,688.06 C621.03,689.67 626.92,738.61 635.01,745.04 C643.10,751.47 648.99,726.61 657.08,723.12 C665.17,719.64 671.06,731.67 679.15,726.05 C687.24,720.42 693.13,698.87 701.22,692.44 C709.31,686.01 719.24,691.25 723.29,690.98" fill="none" stroke="#fff" stroke-width="3.8"/><path d="M568.80,746.50 C572.85,744.63 582.78,746.99 590.87,736.27 C598.96,725.56 604.85,686.45 612.94,688.06 C621.03,689.67 626.92,738.61 635.01,745.04 C643.10,751.47 648.99,726.61 657.08,723.12 C665.17,719.64 671.06,731.67 679.15,726.05 C687.24,720.42 693.13,698.87 701.22,692.44 C709.31,686.01 719.24,691.25 723.29,690.98" fill="none" stroke="#d9d9d9" stroke-width="2"/><line x1="612.50" y1="664.20" x2="622.80" y2="664.20" stroke="#1c1c78" stroke-width="2" /><text x="623.80" y="666.16" font-size="5.6" fill="#444" textLength="13.90" lengthAdjust="spacingAndGlyphs">系列一</text><line x1="645.70" y1="664.20" x2="656.00" y2="664.20" stroke="#d9d9d9" stroke-width="2" /><text x="657.20" y="666.16" font-size="5.6" fill="#444" textLength="14.80" lengthAdjust="spacingAndGlyphs">系列二</text><text x="836.20" y="644.08" font-size="8.8" fill="#222" font-weight="bold" text-anchor="middle" textLength="80.30" lengthAdjust="spacingAndGlyphs">折线图数据分析工具</text><line x1="767.00" y1="747.20" x2="944.00" y2="747.20" stroke="#efefef" stroke-width="0.6" /><text x="763.50" y="749.09" font-size="5.4" fill="#444" text-anchor="end">0</text><line x1="767.00" y1="732.86" x2="944.00" y2="732.86" stroke="#efefef" stroke-width="0.6" /><text x="763.50" y="734.75" font-size="5.4" fill="#444" text-anchor="end">50</text><line x1="767.00" y1="718.52" x2="944.00" y2="718.52" stroke="#efefef" stroke-width="0.6" /><text x="763.50" y="720.41" font-size="5.4" fill="#444" text-anchor="end">100</text><line x1="767.00" y1="704.18" x2="944.00" y2="704.18" stroke="#efefef" stroke-width="0.6" /><text x="763.50" y="706.07" font-size="5.4" fill="#444" text-anchor="end">150</text><line x1="767.00" y1="689.84" x2="944.00" y2="689.84" stroke="#efefef" stroke-width="0.6" /><text x="763.50" y="691.73" font-size="5.4" fill="#444" text-anchor="end">200</text><line x1="767.00" y1="675.50" x2="944.00" y2="675.50" stroke="#efefef" stroke-width="0.6" /><text x="763.50" y="677.39" font-size="5.4" fill="#444" text-anchor="end">250</text><line x1="767.00" y1="675.50" x2="767.00" y2="747.20" stroke="#f2f2f2" stroke-width="0.6" /><line x1="789.12" y1="675.50" x2="789.12" y2="747.20" stroke="#f2f2f2" stroke-width="0.6" /><line x1="811.25" y1="675.50" x2="811.25" y2="747.20" stroke="#f2f2f2" stroke-width="0.6" /><line x1="833.38" y1="675.50" x2="833.38" y2="747.20" stroke="#f2f2f2" stroke-width="0.6" /><line x1="855.50" y1="675.50" x2="855.50" y2="747.20" stroke="#f2f2f2" stroke-width="0.6" /><line x1="877.62" y1="675.50" x2="877.62" y2="747.20" stroke="#f2f2f2" stroke-width="0.6" /><line x1="899.75" y1="675.50" x2="899.75" y2="747.20" stroke="#f2f2f2" stroke-width="0.6" /><line x1="921.88" y1="675.50" x2="921.88" y2="747.20" stroke="#f2f2f2" stroke-width="0.6" /><line x1="944.00" y1="675.50" x2="944.00" y2="747.20" stroke="#f2f2f2" stroke-width="0.6" /><text x="777.80" y="757.09" font-size="5.4" fill="#333" font-weight="bold" text-anchor="middle" textLength="15.50" lengthAdjust="spacingAndGlyphs">数据1</text><text x="799.90" y="757.09" font-size="5.4" fill="#333" font-weight="bold" text-anchor="middle" textLength="15.50" lengthAdjust="spacingAndGlyphs">数据2</text><text x="822.00" y="757.09" font-size="5.4" fill="#333" font-weight="bold" text-anchor="middle" textLength="15.50" lengthAdjust="spacingAndGlyphs">数据3</text><text x="844.10" y="757.09" font-size="5.4" fill="#333" font-weight="bold" text-anchor="middle" textLength="15.50" lengthAdjust="spacingAndGlyphs">数据4</text><text x="866.20" y="757.09" font-size="5.4" fill="#333" font-weight="bold" text-anchor="middle" textLength="15.50" lengthAdjust="spacingAndGlyphs">数据5</text><text x="888.30" y="757.09" font-size="5.4" fill="#333" font-weight="bold" text-anchor="middle" textLength="15.50" lengthAdjust="spacingAndGlyphs">数据6</text><text x="910.40" y="757.09" font-size="5.4" fill="#333" font-weight="bold" text-anchor="middle" textLength="15.50" lengthAdjust="spacingAndGlyphs">数据7</text><text x="932.50" y="757.09" font-size="5.4" fill="#333" font-weight="bold" text-anchor="middle" textLength="15.50" lengthAdjust="spacingAndGlyphs">数据8</text><path d="M777.80,732.86 C779.64,732.14 796.22,723.78 799.90,724.26 C803.58,724.73 818.32,738.84 822.00,738.60 C825.68,738.36 840.42,721.63 844.10,721.39 C847.78,721.15 862.52,735.97 866.20,735.73 C869.88,735.49 884.62,718.64 888.30,718.52 C891.98,718.40 906.72,733.82 910.40,734.29 C914.08,734.77 930.66,725.09 932.50,724.26" fill="none" stroke="#1c1c78" stroke-width="2.4"/><circle cx="777.80" cy="732.86" r="3.40" fill="#1c1c78" /><circle cx="799.90" cy="724.26" r="3.40" fill="#1c1c78" /><circle cx="822.00" cy="738.60" r="3.40" fill="#1c1c78" /><circle cx="844.10" cy="721.39" r="3.40" fill="#1c1c78" /><circle cx="866.20" cy="735.73" r="3.40" fill="#1c1c78" /><circle cx="888.30" cy="718.52" r="3.40" fill="#1c1c78" /><circle cx="910.40" cy="734.29" r="3.40" fill="#1c1c78" /><circle cx="932.50" cy="724.26" r="3.40" fill="#1c1c78" /><path d="M777.80,747.20 C779.64,746.00 796.22,737.64 799.90,732.86 C803.58,728.08 818.32,688.88 822.00,689.84 C825.68,690.80 840.42,741.46 844.10,744.33 C847.78,747.20 862.52,725.69 866.20,724.26 C869.88,722.82 884.62,729.51 888.30,727.12 C891.98,724.73 906.72,698.44 910.40,695.58 C914.08,692.71 930.66,692.95 932.50,692.71" fill="none" stroke="#fff" stroke-width="3.6"/><path d="M777.80,747.20 C779.64,746.00 796.22,737.64 799.90,732.86 C803.58,728.08 818.32,688.88 822.00,689.84 C825.68,690.80 840.42,741.46 844.10,744.33 C847.78,747.20 862.52,725.69 866.20,724.26 C869.88,722.82 884.62,729.51 888.30,727.12 C891.98,724.73 906.72,698.44 910.40,695.58 C914.08,692.71 930.66,692.95 932.50,692.71" fill="none" stroke="#d9d9d9" stroke-width="1.8"/><circle cx="777.80" cy="747.20" r="2.40" fill="#d9d9d9" /><circle cx="799.90" cy="732.86" r="2.40" fill="#d9d9d9" /><circle cx="822.00" cy="689.84" r="2.40" fill="#d9d9d9" /><circle cx="844.10" cy="744.33" r="2.40" fill="#d9d9d9" /><circle cx="866.20" cy="724.26" r="2.40" fill="#d9d9d9" /><circle cx="888.30" cy="727.12" r="2.40" fill="#d9d9d9" /><circle cx="910.40" cy="695.58" r="2.40" fill="#d9d9d9" /><circle cx="932.50" cy="692.71" r="2.40" fill="#d9d9d9" /><line x1="824.80" y1="662.90" x2="834.00" y2="662.90" stroke="#1c1c78" stroke-width="2" /><circle cx="829.40" cy="662.90" r="2.40" fill="#1c1c78" /><text x="835.50" y="664.86" font-size="5.6" fill="#444" textLength="15.50" lengthAdjust="spacingAndGlyphs">系列一</text><line x1="859.00" y1="662.90" x2="868.00" y2="662.90" stroke="#d9d9d9" stroke-width="2" /><circle cx="863.50" cy="662.90" r="2.00" fill="#d9d9d9" /><text x="870.60" y="664.86" font-size="5.6" fill="#444" textLength="14.20" lengthAdjust="spacingAndGlyphs">系列二</text></svg></div><div class="s" style="left:0px;top:840px"><svg width="475" height="270" viewBox="0 840 475 270" font-family="Liberation Sans, sans-serif"><circle cx="12.80" cy="853.30" r="7.90" fill="#cfd83e" /><path d="M5.6000000000000005,854.8 A7.3,7.3 0 0 0 20.0,854.8" fill="none" stroke="#a3a66a" stroke-width="1.6"/><circle cx="12.80" cy="853.30" r="5.00" fill="#1c1c7c" /><circle cx="12.80" cy="854.10" r="2.90" fill="#e6e6f0" /><text x="57.00" y="875.40" font-size="18" fill="#1a1a1a" textLength="35.00" lengthAdjust="spacingAndGlyphs" stroke="#1a1a1a" stroke-width="0.3">饼图</text><g transform="translate(13,975.3) rotate(-90)"><text x="-35.70" y="1.96" font-size="5.6" fill="#333" textLength="37.30" lengthAdjust="spacingAndGlyphs">Business plan</text><line x1="4.20" y1="-2.20" x2="4.20" y2="2.40" stroke="#444" stroke-width="0.5" /><text x="5.80" y="2.03" font-size="5.8" fill="#222" font-weight="bold" textLength="29.80" lengthAdjust="spacingAndGlyphs">商业计划书</text></g><text x="8.70" y="1103.50" font-size="8" fill="#111" font-weight="bold">48</text><text x="352.80" y="1103.36" font-size="5.6" fill="#666" textLength="52.50" lengthAdjust="spacingAndGlyphs">www.pptgenius.com</text><text x="406.70" y="1103.36" font-size="5.6" fill="#666">|</text><text x="410.50" y="1103.36" font-size="5.6" fill="#666" textLength="48.70" lengthAdjust="spacingAndGlyphs">内部资料 禁止外传</text><line x1="252.00" y1="900.00" x2="252.00" y2="1062.00" stroke="#f0f0f0" stroke-width="0.8" /><text x="141.00" y="915.05" font-size="9" fill="#333" text-anchor="middle" textLength="72.90" lengthAdjust="spacingAndGlyphs">比例数据对比图表</text><path d="M144.60,1006.80 L144.60,950.80 A56,56 0 0 1 166.91,1058.16 Z" fill="#1f1f84" stroke="#fff" stroke-width="0.9" stroke-linejoin="round"/><path d="M144.60,1006.80 L166.91,1058.16 A56,56 0 0 1 91.83,1025.55 Z" fill="#34349a" stroke="#fff" stroke-width="0.9" stroke-linejoin="round"/><path d="M144.60,1006.80 L91.83,1025.55 A56,56 0 0 1 99.75,973.27 Z" fill="#4747a4" stroke="#fff" stroke-width="0.9" stroke-linejoin="round"/><path d="M144.60,1006.80 L99.75,973.27 A56,56 0 0 1 129.49,952.88 Z" fill="#5c5cae" stroke="#fff" stroke-width="0.9" stroke-linejoin="round"/><path d="M144.60,1006.80 L129.49,952.88 A56,56 0 0 1 144.60,950.80 Z" fill="#7676bd" stroke="#fff" stroke-width="0.9" stroke-linejoin="round"/><text x="171.90" y="1003.95" font-size="7" fill="#fff" font-weight="bold" text-anchor="middle">50</text><text x="133.30" y="1035.75" font-size="7" fill="#fff" font-weight="bold" text-anchor="middle">30</text><text x="116.70" y="1005.35" font-size="7" fill="#fff" font-weight="bold" text-anchor="middle">18</text><text x="128.70" y="986.15" font-size="7" fill="#fff" font-weight="bold" text-anchor="middle">12</text><text x="140.60" y="980.95" font-size="7" fill="#fff" font-weight="bold" text-anchor="middle">5</text><circle cx="85.40" cy="928.30" r="1.10" fill="#1f1f84" /><text x="87.60" y="930.33" font-size="5.8" fill="#555" textLength="16.00" lengthAdjust="spacingAndGlyphs">分类1</text><circle cx="108.60" cy="928.30" r="1.10" fill="#34349a" /><text x="110.80" y="930.33" font-size="5.8" fill="#555" textLength="16.00" lengthAdjust="spacingAndGlyphs">分类2</text><circle cx="131.80" cy="928.30" r="1.10" fill="#4747a4" /><text x="134.00" y="930.33" font-size="5.8" fill="#555" textLength="16.00" lengthAdjust="spacingAndGlyphs">分类3</text><circle cx="155.00" cy="928.30" r="1.10" fill="#5c5cae" /><text x="157.20" y="930.33" font-size="5.8" fill="#555" textLength="16.00" lengthAdjust="spacingAndGlyphs">分类4</text><circle cx="178.20" cy="928.30" r="1.10" fill="#7676bd" /><text x="180.40" y="930.33" font-size="5.8" fill="#555" textLength="16.00" lengthAdjust="spacingAndGlyphs">分类5</text><text x="355.80" y="915.05" font-size="9" fill="#333" text-anchor="middle" textLength="91.70" lengthAdjust="spacingAndGlyphs">数据比例数据对比图表</text><path d="M358.60,948.40 A56,56 0 0 1 380.91,1055.76 L373.94,1039.71 A38.5,38.5 0 0 0 358.60,965.90 Z" fill="#1f1f84" stroke="#fff" stroke-width="0.9" stroke-linejoin="round"/><path d="M380.91,1055.76 A56,56 0 0 1 305.83,1023.15 L322.32,1017.29 A38.5,38.5 0 0 0 373.94,1039.71 Z" fill="#34349a" stroke="#fff" stroke-width="0.9" stroke-linejoin="round"/><path d="M305.83,1023.15 A56,56 0 0 1 313.75,970.87 L327.76,981.35 A38.5,38.5 0 0 0 322.32,1017.29 Z" fill="#4747a4" stroke="#fff" stroke-width="0.9" stroke-linejoin="round"/><path d="M313.75,970.87 A56,56 0 0 1 343.49,950.48 L348.21,967.33 A38.5,38.5 0 0 0 327.76,981.35 Z" fill="#5c5cae" stroke="#fff" stroke-width="0.9" stroke-linejoin="round"/><path d="M343.49,950.48 A56,56 0 0 1 358.60,948.40 L358.60,965.90 A38.5,38.5 0 0 0 348.21,967.33 Z" fill="#7676bd" stroke="#fff" stroke-width="0.9" stroke-linejoin="round"/><text x="405.20" y="997.65" font-size="7" fill="#fff" font-weight="bold" text-anchor="middle">50</text><text x="339.60" y="1051.45" font-size="7" fill="#fff" font-weight="bold" text-anchor="middle">30</text><text x="312.00" y="1000.45" font-size="7" fill="#fff" font-weight="bold" text-anchor="middle">18</text><text x="331.90" y="967.85" font-size="7" fill="#fff" font-weight="bold" text-anchor="middle">12</text><text x="352.30" y="960.15" font-size="7" fill="#fff" font-weight="bold" text-anchor="middle">5</text><circle cx="299.50" cy="928.30" r="1.10" fill="#1f1f84" /><text x="301.70" y="930.33" font-size="5.8" fill="#555" textLength="16.00" lengthAdjust="spacingAndGlyphs">分类1</text><circle cx="323.00" cy="928.30" r="1.10" fill="#34349a" /><text x="325.20" y="930.33" font-size="5.8" fill="#555" textLength="16.00" lengthAdjust="spacingAndGlyphs">分类2</text><circle cx="346.50" cy="928.30" r="1.10" fill="#4747a4" /><text x="348.70" y="930.33" font-size="5.8" fill="#555" textLength="16.00" lengthAdjust="spacingAndGlyphs">分类3</text><circle cx="370.00" cy="928.30" r="1.10" fill="#5c5cae" /><text x="372.20" y="930.33" font-size="5.8" fill="#555" textLength="16.00" lengthAdjust="spacingAndGlyphs">分类4</text><circle cx="393.50" cy="928.30" r="1.10" fill="#7676bd" /><text x="395.70" y="930.33" font-size="5.8" fill="#555" textLength="16.00" lengthAdjust="spacingAndGlyphs">分类5</text><path d="M342.9,988.5 H357.6 M342.9,988.5 V1001 H355" fill="none" stroke="#1f1f84" stroke-width="1.5"/><path d="M349.8,1000.5 L352.6,1000.5 L351.6,1005 Z" fill="#1f1f84"/><line x1="345.40" y1="992.80" x2="355.00" y2="992.80" stroke="#1f1f84" stroke-width="0.9" /><line x1="345.40" y1="995.40" x2="355.00" y2="995.40" stroke="#1f1f84" stroke-width="0.9" /><line x1="345.40" y1="997.40" x2="355.00" y2="997.40" stroke="#1f1f84" stroke-width="0.9" /><path d="M349.1,1018.8 C349.1,1011 352,1008.2 357.5,1007.1 L362.7,1013.5 L367.9,1007.1 C373.5,1008.2 376.7,1011 376.7,1018.8 Z" fill="#1f1f84"/><path d="M361.6,1008.6 L363.8,1008.6 L363.4,1013.4 L362.7,1014.3 L362,1013.4 Z" fill="#1f1f84"/><rect x="367.00" y="1013.30" width="5.00" height="1.60" fill="#fff" /><ellipse cx="362.7" cy="1000.3" rx="6.2" ry="6.1" fill="#fff" stroke="#1f1f84" stroke-width="1.3"/><path d="M356,997.5 C355.5,991 359,989 362.8,989 C367,989 370.2,991.5 369.5,998 C368,995.5 366,994.5 363.5,995.6 C361,996.5 358,996 356,997.5 Z" fill="#1f1f84"/></svg></div><div class="s" style="left:485px;top:840px"><svg width="475" height="270" viewBox="485 840 475 270" font-family="Liberation Sans, sans-serif"><circle cx="497.80" cy="853.30" r="7.90" fill="#cfd83e" /><path d="M490.6,854.8 A7.3,7.3 0 0 0 505.0,854.8" fill="none" stroke="#a3a66a" stroke-width="1.6"/><circle cx="497.80" cy="853.30" r="5.00" fill="#1c1c7c" /><circle cx="497.80" cy="854.10" r="2.90" fill="#e6e6f0" /><text x="542.00" y="875.40" font-size="18" fill="#1a1a1a" textLength="35.00" lengthAdjust="spacingAndGlyphs" stroke="#1a1a1a" stroke-width="0.3">饼图</text><g transform="translate(498,975.3) rotate(-90)"><text x="-35.70" y="1.96" font-size="5.6" fill="#333" textLength="37.30" lengthAdjust="spacingAndGlyphs">Business plan</text><line x1="4.20" y1="-2.20" x2="4.20" y2="2.40" stroke="#444" stroke-width="0.5" /><text x="5.80" y="2.03" font-size="5.8" fill="#222" font-weight="bold" textLength="29.80" lengthAdjust="spacingAndGlyphs">商业计划书</text></g><text x="493.70" y="1103.50" font-size="8" fill="#111" font-weight="bold">49</text><text x="837.80" y="1103.36" font-size="5.6" fill="#666" textLength="52.50" lengthAdjust="spacingAndGlyphs">www.pptgenius.com</text><text x="891.70" y="1103.36" font-size="5.6" fill="#666">|</text><text x="895.50" y="1103.36" font-size="5.6" fill="#666" textLength="48.70" lengthAdjust="spacingAndGlyphs">内部资料 禁止外传</text><text x="603.75" y="904.88" font-size="9.1" fill="#444" text-anchor="middle" textLength="55.00" lengthAdjust="spacingAndGlyphs">输入你的标题</text><path d="M650.95,969.09 A46,46 0 1 1 607.20,937.30 L607.20,959.30 A24,24 0 1 0 630.03,975.88 Z" fill="#d9d9d9" stroke="#fff" stroke-width="1"/><path d="M607.20,937.30 A46,46 0 0 1 650.95,969.09 L630.03,975.88 A24,24 0 0 0 607.20,959.30 Z" fill="#1e1e84" stroke="#fff" stroke-width="1"/><text x="627.20" y="958.02" font-size="7.5" fill="#fff" font-weight="bold" text-anchor="middle">20</text><text x="586.50" y="1014.62" font-size="7.5" fill="#333" font-weight="bold" text-anchor="middle">80</text><circle cx="584.25" cy="919.80" r="1.10" fill="#1e1e84" /><text x="586.25" y="921.83" font-size="5.8" fill="#555" textLength="13.00" lengthAdjust="spacingAndGlyphs">分类1</text><circle cx="609.25" cy="919.80" r="1.10" fill="#cfcfcf" /><text x="612.05" y="921.83" font-size="5.8" fill="#555" textLength="15.00" lengthAdjust="spacingAndGlyphs">分类2</text><circle cx="600.20" cy="974.20" r="2.35" fill="#1e1e84" stroke="#fff" stroke-width="0.5"/><path d="M596.4000000000001,980.5999999999999 Q596.4000000000001,977.8 598.7,977.8 L601.7,977.8 Q604.0,977.8 604.0,980.5999999999999 L604.0,986.8 L602.8000000000001,986.8 L602.6,994.8 L600.6,994.8 L600.2,987.8 L599.8000000000001,994.8 L597.8000000000001,994.8 L597.6,986.8 L596.4000000000001,986.8 Z" fill="#1e1e84" stroke="#fff" stroke-width="0.5"/><path d="M599.2,977.8 L600.2,979.3 L601.2,977.8" fill="none" stroke="#fff" stroke-width="0.5"/><line x1="600.20" y1="979.30" x2="600.20" y2="984.80" stroke="#fff" stroke-width="0.45" /><circle cx="614.20" cy="974.20" r="2.35" fill="#1e1e84" stroke="#fff" stroke-width="0.5"/><path d="M610.4000000000001,980.5999999999999 Q610.4000000000001,977.8 612.7,977.8 L615.7,977.8 Q618.0,977.8 618.0,980.5999999999999 L618.0,986.8 L616.8000000000001,986.8 L616.6,994.8 L614.6,994.8 L614.2,987.8 L613.8000000000001,994.8 L611.8000000000001,994.8 L611.6,986.8 L610.4000000000001,986.8 Z" fill="#1e1e84" stroke="#fff" stroke-width="0.5"/><path d="M613.2,977.8 L614.2,979.3 L615.2,977.8" fill="none" stroke="#fff" stroke-width="0.5"/><line x1="614.20" y1="979.30" x2="614.20" y2="984.80" stroke="#fff" stroke-width="0.45" /><circle cx="607.20" cy="974.20" r="2.35" fill="#1e1e84" stroke="#fff" stroke-width="0.5"/><path d="M603.4000000000001,980.5999999999999 Q603.4000000000001,977.8 605.7,977.8 L608.7,977.8 Q611.0,977.8 611.0,980.5999999999999 L611.0,986.8 L609.8000000000001,986.8 L609.6,994.8 L607.6,994.8 L607.2,987.8 L606.8000000000001,994.8 L604.8000000000001,994.8 L604.6,986.8 L603.4000000000001,986.8 Z" fill="#1e1e84" stroke="#fff" stroke-width="0.5"/><path d="M606.2,977.8 L607.2,979.3 L608.2,977.8" fill="none" stroke="#fff" stroke-width="0.5"/><line x1="607.20" y1="979.30" x2="607.20" y2="984.80" stroke="#fff" stroke-width="0.45" /><text x="737.90" y="904.88" font-size="9.1" fill="#444" text-anchor="middle" textLength="55.00" lengthAdjust="spacingAndGlyphs">输入你的标题</text><path d="M784.95,997.51 A46,46 0 1 1 741.20,937.30 L741.20,959.30 A24,24 0 1 0 764.03,990.72 Z" fill="#d9d9d9" stroke="#fff" stroke-width="1"/><path d="M741.20,937.30 A46,46 0 0 1 784.95,997.51 L764.03,990.72 A24,24 0 0 0 741.20,959.30 Z" fill="#1e1e84" stroke="#fff" stroke-width="1"/><text x="769.20" y="964.62" font-size="7.5" fill="#fff" font-weight="bold" text-anchor="middle">30</text><text x="712.00" y="1006.42" font-size="7.5" fill="#333" font-weight="bold" text-anchor="middle">70</text><circle cx="718.40" cy="919.80" r="1.10" fill="#1e1e84" /><text x="720.40" y="921.83" font-size="5.8" fill="#555" textLength="13.00" lengthAdjust="spacingAndGlyphs">分类1</text><circle cx="743.40" cy="919.80" r="1.10" fill="#cfcfcf" /><text x="746.20" y="921.83" font-size="5.8" fill="#555" textLength="15.00" lengthAdjust="spacingAndGlyphs">分类2</text><circle cx="734.20" cy="974.20" r="2.35" fill="#1e1e84" stroke="#fff" stroke-width="0.5"/><path d="M730.4000000000001,980.5999999999999 Q730.4000000000001,977.8 732.7,977.8 L735.7,977.8 Q738.0,977.8 738.0,980.5999999999999 L738.0,986.8 L736.8000000000001,986.8 L736.6,994.8 L734.6,994.8 L734.2,987.8 L733.8000000000001,994.8 L731.8000000000001,994.8 L731.6,986.8 L730.4000000000001,986.8 Z" fill="#1e1e84" stroke="#fff" stroke-width="0.5"/><path d="M733.2,977.8 L734.2,979.3 L735.2,977.8" fill="none" stroke="#fff" stroke-width="0.5"/><line x1="734.20" y1="979.30" x2="734.20" y2="984.80" stroke="#fff" stroke-width="0.45" /><circle cx="748.20" cy="974.20" r="2.35" fill="#1e1e84" stroke="#fff" stroke-width="0.5"/><path d="M744.4000000000001,980.5999999999999 Q744.4000000000001,977.8 746.7,977.8 L749.7,977.8 Q752.0,977.8 752.0,980.5999999999999 L752.0,986.8 L750.8000000000001,986.8 L750.6,994.8 L748.6,994.8 L748.2,987.8 L747.8000000000001,994.8 L745.8000000000001,994.8 L745.6,986.8 L744.4000000000001,986.8 Z" fill="#1e1e84" stroke="#fff" stroke-width="0.5"/><path d="M747.2,977.8 L748.2,979.3 L749.2,977.8" fill="none" stroke="#fff" stroke-width="0.5"/><line x1="748.20" y1="979.30" x2="748.20" y2="984.80" stroke="#fff" stroke-width="0.45" /><circle cx="741.20" cy="974.20" r="2.35" fill="#1e1e84" stroke="#fff" stroke-width="0.5"/><path d="M737.4000000000001,980.5999999999999 Q737.4000000000001,977.8 739.7,977.8 L742.7,977.8 Q745.0,977.8 745.0,980.5999999999999 L745.0,986.8 L743.8000000000001,986.8 L743.6,994.8 L741.6,994.8 L741.2,987.8 L740.8000000000001,994.8 L738.8000000000001,994.8 L738.6,986.8 L737.4000000000001,986.8 Z" fill="#1e1e84" stroke="#fff" stroke-width="0.5"/><path d="M740.2,977.8 L741.2,979.3 L742.2,977.8" fill="none" stroke="#fff" stroke-width="0.5"/><line x1="741.20" y1="979.30" x2="741.20" y2="984.80" stroke="#fff" stroke-width="0.45" /><text x="872.90" y="904.88" font-size="9.1" fill="#444" text-anchor="middle" textLength="55.00" lengthAdjust="spacingAndGlyphs">输入你的标题</text><path d="M903.24,1020.51 A46,46 0 1 1 876.20,937.30 L876.20,959.30 A24,24 0 1 0 890.31,1002.72 Z" fill="#d9d9d9" stroke="#fff" stroke-width="1"/><path d="M876.20,937.30 A46,46 0 0 1 903.24,1020.51 L890.31,1002.72 A24,24 0 0 0 876.20,959.30 Z" fill="#1e1e84" stroke="#fff" stroke-width="1"/><text x="908.00" y="975.12" font-size="7.5" fill="#fff" font-weight="bold" text-anchor="middle">40</text><text x="843.00" y="996.42" font-size="7.5" fill="#333" font-weight="bold" text-anchor="middle">60</text><circle cx="853.40" cy="919.80" r="1.10" fill="#1e1e84" /><text x="855.40" y="921.83" font-size="5.8" fill="#555" textLength="13.00" lengthAdjust="spacingAndGlyphs">分类1</text><circle cx="878.40" cy="919.80" r="1.10" fill="#cfcfcf" /><text x="881.20" y="921.83" font-size="5.8" fill="#555" textLength="15.00" lengthAdjust="spacingAndGlyphs">分类2</text><circle cx="869.20" cy="974.20" r="2.35" fill="#1e1e84" stroke="#fff" stroke-width="0.5"/><path d="M865.4000000000001,980.5999999999999 Q865.4000000000001,977.8 867.7,977.8 L870.7,977.8 Q873.0,977.8 873.0,980.5999999999999 L873.0,986.8 L871.8000000000001,986.8 L871.6,994.8 L869.6,994.8 L869.2,987.8 L868.8000000000001,994.8 L866.8000000000001,994.8 L866.6,986.8 L865.4000000000001,986.8 Z" fill="#1e1e84" stroke="#fff" stroke-width="0.5"/><path d="M868.2,977.8 L869.2,979.3 L870.2,977.8" fill="none" stroke="#fff" stroke-width="0.5"/><line x1="869.20" y1="979.30" x2="869.20" y2="984.80" stroke="#fff" stroke-width="0.45" /><circle cx="883.20" cy="974.20" r="2.35" fill="#1e1e84" stroke="#fff" stroke-width="0.5"/><path d="M879.4000000000001,980.5999999999999 Q879.4000000000001,977.8 881.7,977.8 L884.7,977.8 Q887.0,977.8 887.0,980.5999999999999 L887.0,986.8 L885.8000000000001,986.8 L885.6,994.8 L883.6,994.8 L883.2,987.8 L882.8000000000001,994.8 L880.8000000000001,994.8 L880.6,986.8 L879.4000000000001,986.8 Z" fill="#1e1e84" stroke="#fff" stroke-width="0.5"/><path d="M882.2,977.8 L883.2,979.3 L884.2,977.8" fill="none" stroke="#fff" stroke-width="0.5"/><line x1="883.20" y1="979.30" x2="883.20" y2="984.80" stroke="#fff" stroke-width="0.45" /><circle cx="876.20" cy="974.20" r="2.35" fill="#1e1e84" stroke="#fff" stroke-width="0.5"/><path d="M872.4000000000001,980.5999999999999 Q872.4000000000001,977.8 874.7,977.8 L877.7,977.8 Q880.0,977.8 880.0,980.5999999999999 L880.0,986.8 L878.8000000000001,986.8 L878.6,994.8 L876.6,994.8 L876.2,987.8 L875.8000000000001,994.8 L873.8000000000001,994.8 L873.6,986.8 L872.4000000000001,986.8 Z" fill="#1e1e84" stroke="#fff" stroke-width="0.5"/><path d="M875.2,977.8 L876.2,979.3 L877.2,977.8" fill="none" stroke="#fff" stroke-width="0.5"/><line x1="876.20" y1="979.30" x2="876.20" y2="984.80" stroke="#fff" stroke-width="0.45" /><line x1="672.50" y1="930.00" x2="672.50" y2="1011.00" stroke="#e8e8e8" stroke-width="0.8" /><line x1="805.50" y1="930.00" x2="805.50" y2="1011.00" stroke="#e8e8e8" stroke-width="0.8" /><text x="545.00" y="1055.76" font-size="11.6" fill="#1b1b6e" font-weight="bold" textLength="127.50" lengthAdjust="spacingAndGlyphs" stroke="#1b1b6e" stroke-width="0.4">点击此处添加结论文字，</text><text x="545.00" y="1075.58" font-size="8.8" fill="#444" textLength="186.70" lengthAdjust="spacingAndGlyphs">标题数字等都可以通过点击和重新输入进行更改</text></svg></div><div class="s" style="left:0px;top:1120px"><svg width="475" height="270" viewBox="0 1120 475 270" font-family="Liberation Sans, sans-serif"><circle cx="12.80" cy="1133.30" r="7.90" fill="#cfd83e" /><path d="M5.6000000000000005,1134.8 A7.3,7.3 0 0 0 20.0,1134.8" fill="none" stroke="#a3a66a" stroke-width="1.6"/><circle cx="12.80" cy="1133.30" r="5.00" fill="#1c1c7c" /><circle cx="12.80" cy="1134.10" r="2.90" fill="#e6e6f0" /><text x="57.00" y="1155.40" font-size="18" fill="#1a1a1a" textLength="35.00" lengthAdjust="spacingAndGlyphs" stroke="#1a1a1a" stroke-width="0.3">饼图</text><g transform="translate(13,1255.3) rotate(-90)"><text x="-35.70" y="1.96" font-size="5.6" fill="#333" textLength="37.30" lengthAdjust="spacingAndGlyphs">Business plan</text><line x1="4.20" y1="-2.20" x2="4.20" y2="2.40" stroke="#444" stroke-width="0.5" /><text x="5.80" y="2.03" font-size="5.8" fill="#222" font-weight="bold" textLength="29.80" lengthAdjust="spacingAndGlyphs">商业计划书</text></g><text x="8.70" y="1383.50" font-size="8" fill="#111" font-weight="bold">50</text><text x="352.80" y="1383.36" font-size="5.6" fill="#666" textLength="52.50" lengthAdjust="spacingAndGlyphs">www.pptgenius.com</text><text x="406.70" y="1383.36" font-size="5.6" fill="#666">|</text><text x="410.50" y="1383.36" font-size="5.6" fill="#666" textLength="48.70" lengthAdjust="spacingAndGlyphs">内部资料 禁止外传</text><path d="M155,1196.7 L202.5,1166.7 L202.5,1289.2 L156.7,1260.8 A52,52 0 0 0 155,1196.7 Z" fill="#e5e5f0"/><rect x="208.75" y="1165.00" width="218.75" height="125.00" fill="#f2f2f3" /><path d="M148.54,1260.80 A49,49 0 1 1 148.54,1197.80 L133.98,1210.02 A30,30 0 1 0 133.98,1248.58 Z" fill="#d9d9d9"/><circle cx="111.00" cy="1229.30" r="30.00" fill="#fff" /><path d="M148.3,1199.2 A48,48 0 0 1 150.8,1256.3 L135,1246.3 Q133.3,1228 134.2,1210 Z" fill="#1e1e84" stroke="#fff" stroke-width="1.2" stroke-linejoin="round"/><text x="71.30" y="1233.47" font-size="6.2" fill="#333" font-weight="bold" text-anchor="middle">80%</text><text x="149.20" y="1230.61" font-size="6.6" fill="#fff" font-weight="bold" text-anchor="middle">20%</text><circle cx="101.10" cy="1219.70" r="2.60" fill="#cfcfcf" /><circle cx="119.70" cy="1219.70" r="2.60" fill="#cfcfcf" /><circle cx="110.40" cy="1220.10" r="4.20" fill="#cfcfcf" /><path d="M108.3,1220.2 L109.9,1221.9 L112.8,1218.6" fill="none" stroke="#fff" stroke-width="1"/><rect x="105.50" y="1226.40" width="9.80" height="1.20" fill="#cfcfcf" /><rect x="109.80" y="1226.40" width="1.20" height="13.30" fill="#cfcfcf" /><path d="M99.1,1224 h4.4 v7.5 h4.3 v7.8 h-3.8 v-5.3 h-4.9 z" fill="#cfcfcf"/><path d="M121.7,1224 h-4.4 v7.5 h-4.3 v7.8 h3.8 v-5.3 h4.9 z" fill="#cfcfcf"/><text x="305.60" y="1192.02" font-size="9.2" fill="#444" text-anchor="middle" textLength="101.20" lengthAdjust="spacingAndGlyphs">柱状图数据图表分析工具</text><rect x="252.00" y="1205.10" width="125.00" height="8.00" fill="#1e1e84" /><text x="380.00" y="1211.20" font-size="6" fill="#555">80</text><text x="232.00" y="1211.13" font-size="5.8" fill="#555" textLength="14.30" lengthAdjust="spacingAndGlyphs">数据5</text><rect x="252.00" y="1220.70" width="101.56" height="8.00" fill="#1e1e84" /><text x="356.56" y="1226.80" font-size="6" fill="#555">65</text><text x="232.00" y="1226.73" font-size="5.8" fill="#555" textLength="14.30" lengthAdjust="spacingAndGlyphs">数据4</text><rect x="252.00" y="1236.30" width="106.25" height="8.00" fill="#1e1e84" /><text x="361.25" y="1242.40" font-size="6" fill="#555">68</text><text x="232.00" y="1242.33" font-size="5.8" fill="#555" textLength="14.30" lengthAdjust="spacingAndGlyphs">数据3</text><rect x="252.00" y="1251.90" width="117.19" height="8.00" fill="#1e1e84" /><text x="372.19" y="1258.00" font-size="6" fill="#555">75</text><text x="232.00" y="1257.93" font-size="5.8" fill="#555" textLength="14.30" lengthAdjust="spacingAndGlyphs">数据2</text><rect x="252.00" y="1267.50" width="125.00" height="8.00" fill="#1e1e84" /><text x="380.00" y="1273.60" font-size="6" fill="#555">80</text><text x="232.00" y="1273.53" font-size="5.8" fill="#555" textLength="14.30" lengthAdjust="spacingAndGlyphs">数据1</text><text x="128.30" y="1323.95" font-size="11.3" fill="#1b1b6e" font-weight="bold" textLength="119.00" lengthAdjust="spacingAndGlyphs" stroke="#1b1b6e" stroke-width="0.4">点击此处添加结论文字</text><text x="250.50" y="1323.08" font-size="8.8" fill="#444" textLength="177.80" lengthAdjust="spacingAndGlyphs">，标题数字等都可以通过点击和重新输入进行</text><text x="128.30" y="1341.38" font-size="8.8" fill="#444" textLength="277.40" lengthAdjust="spacingAndGlyphs">更改，顶部“开始”面板中可以对字体、字号、颜色、行距等进行修改</text></svg></div><div class="s" style="left:485px;top:1120px"><svg width="475" height="270" viewBox="485 1120 475 270" font-family="Liberation Sans, sans-serif"><defs><radialGradient id="rg10" gradientUnits="userSpaceOnUse" cx="1000" cy="600" r="900.0"><stop offset="0.0000" stop-color="#f7f7f7"/><stop offset="0.4889" stop-color="#f5f5f5"/><stop offset="0.5222" stop-color="#ededed"/><stop offset="0.5311" stop-color="#e9e9e9"/><stop offset="0.5578" stop-color="#eaeaea"/><stop offset="0.5600" stop-color="#f8f8f8"/><stop offset="0.5633" stop-color="#f8f8f8"/><stop offset="0.5667" stop-color="#e9e9e9"/><stop offset="0.5933" stop-color="#eaeaea"/><stop offset="0.5956" stop-color="#f8f8f8"/><stop offset="0.5989" stop-color="#f8f8f8"/><stop offset="0.6022" stop-color="#e9e9e9"/><stop offset="0.6289" stop-color="#eaeaea"/><stop offset="0.6311" stop-color="#f8f8f8"/><stop offset="0.6344" stop-color="#f8f8f8"/><stop offset="0.6378" stop-color="#e9e9e9"/><stop offset="0.6644" stop-color="#eaeaea"/><stop offset="0.6667" stop-color="#f8f8f8"/><stop offset="0.6700" stop-color="#f8f8f8"/><stop offset="0.6733" stop-color="#e9e9e9"/><stop offset="0.7000" stop-color="#eaeaea"/><stop offset="0.7022" stop-color="#f8f8f8"/><stop offset="0.7056" stop-color="#f8f8f8"/><stop offset="0.7089" stop-color="#e9e9e9"/><stop offset="0.7356" stop-color="#eaeaea"/><stop offset="0.7378" stop-color="#f8f8f8"/><stop offset="0.7411" stop-color="#f8f8f8"/><stop offset="0.7444" stop-color="#e9e9e9"/><stop offset="0.7711" stop-color="#eaeaea"/><stop offset="0.7733" stop-color="#f8f8f8"/><stop offset="0.7767" stop-color="#f8f8f8"/><stop offset="0.7800" stop-color="#e9e9e9"/><stop offset="0.8067" stop-color="#eaeaea"/><stop offset="0.8089" stop-color="#f8f8f8"/><stop offset="0.8122" stop-color="#f8f8f8"/><stop offset="0.8156" stop-color="#e9e9e9"/><stop offset="0.8422" stop-color="#eaeaea"/><stop offset="0.8444" stop-color="#f8f8f8"/><stop offset="0.8478" stop-color="#f8f8f8"/><stop offset="0.8511" stop-color="#e9e9e9"/><stop offset="0.8778" stop-color="#eaeaea"/><stop offset="0.8800" stop-color="#f8f8f8"/><stop offset="0.8833" stop-color="#f8f8f8"/><stop offset="0.8867" stop-color="#e9e9e9"/><stop offset="0.9133" stop-color="#eaeaea"/><stop offset="0.9156" stop-color="#f8f8f8"/><stop offset="0.9189" stop-color="#f8f8f8"/><stop offset="0.9222" stop-color="#e9e9e9"/><stop offset="0.9489" stop-color="#eaeaea"/><stop offset="0.9511" stop-color="#f8f8f8"/><stop offset="0.9544" stop-color="#f8f8f8"/><stop offset="0.9667" stop-color="#eeeeee"/><stop offset="1.0000" stop-color="#f4f4f4"/></radialGradient><radialGradient id="wl10" gradientUnits="userSpaceOnUse" cx="0" cy="0" r="1" gradientTransform="translate(800,1320) scale(260,150)"><stop offset="0" stop-color="#fff" stop-opacity="1"/><stop offset="0.45" stop-color="#fff" stop-opacity="0.85"/><stop offset="1" stop-color="#fff" stop-opacity="0"/></radialGradient><radialGradient id="tl10" gradientUnits="userSpaceOnUse" cx="485" cy="1120" r="45"><stop offset="0" stop-color="#fff" stop-opacity="0.8"/><stop offset="1" stop-color="#fff" stop-opacity="0"/></radialGradient><radialGradient id="tr10" gradientUnits="userSpaceOnUse" cx="940" cy="1130" r="110"><stop offset="0" stop-color="#fff" stop-opacity="0.85"/><stop offset="1" stop-color="#fff" stop-opacity="0"/></radialGradient><linearGradient id="tp10" gradientUnits="userSpaceOnUse" x1="0" y1="1120" x2="0" y2="1160"><stop offset="0" stop-color="#fff" stop-opacity="0.75"/><stop offset="1" stop-color="#fff" stop-opacity="0"/></linearGradient><linearGradient id="nv10" gradientUnits="userSpaceOnUse" x1="485" y1="1290" x2="600" y2="1400"><stop offset="0" stop-color="#4646a6"/><stop offset="1" stop-color="#1f1f86"/></linearGradient><filter id="bl10" x="-10%" y="-30%" width="120%" height="160%"><feGaussianBlur stdDeviation="4"/></filter></defs><rect x="485.00" y="1120.00" width="475.00" height="270.00" fill="url(#rg10)" /><rect x="485.00" y="1120.00" width="475.00" height="270.00" fill="url(#wl10)" /><rect x="485.00" y="1120.00" width="475.00" height="270.00" fill="url(#tl10)" /><rect x="485.00" y="1120.00" width="475.00" height="270.00" fill="url(#tr10)" /><rect x="485.00" y="1120.00" width="475.00" height="40.00" fill="url(#tp10)" /><path d="M470,1262 C570,1285 680,1335 800,1352 C860,1345 920,1325 975,1290 L975,1400 L470,1400 Z" fill="#fff" filter="url(#bl10)"/><path d="M485,1290 C585,1322 700,1376 797,1378 L746.5,1390 L485,1390 Z" fill="url(#nv10)"/><path d="M748.5,1390 Q862,1366 960,1318 L960,1390 Z" fill="#3c3c3c"/><rect x="573.30" y="1208.50" width="43.80" height="42.80" fill="#20208a" stroke="#ffffff" stroke-width="0.8"/><text x="595.20" y="1241.10" font-size="32" fill="#fff" font-weight="bold" text-anchor="middle" textLength="34.00" lengthAdjust="spacingAndGlyphs">05</text><text x="634.80" y="1234.15" font-size="27" fill="#1f1f85" font-weight="bold" textLength="106.00" lengthAdjust="spacingAndGlyphs" stroke="#1f1f85" stroke-width="1.3">行业分析</text><line x1="634.80" y1="1248.50" x2="873.40" y2="1248.50" stroke="#555" stroke-width="0.9" /><text x="634.50" y="1266.62" font-size="8.9" fill="#3a3a3a" textLength="231.70" lengthAdjust="spacingAndGlyphs">主要介绍企业所归属的产业领域的基本情况，以及企业在整</text><text x="634.50" y="1280.21" font-size="8.9" fill="#3a3a3a" textLength="230.30" lengthAdjust="spacingAndGlyphs">个产业或行业中的地位。和同类型企业进行对比分析，做分</text><text x="634.50" y="1293.71" font-size="8.9" fill="#3a3a3a" textLength="124.60" lengthAdjust="spacingAndGlyphs">析，表现企业的核心竞争优势。</text><circle cx="928.50" cy="1151.50" r="17.00" fill="#efec1c" stroke="#3a3a2a" stroke-width="0.70"/><circle cx="928.50" cy="1151.50" r="14.70" fill="none" stroke="#4a4a30" stroke-width="1.50" stroke-dasharray="1.00 0.90"/><circle cx="928.50" cy="1151.50" r="12.30" fill="#23238c" stroke="#2a2a3a" stroke-width="0.60"/><line x1="924.74" y1="1150.13" x2="917.69" y2="1147.57" stroke="#b8bce8" stroke-width="0.6" /><line x1="925.93" y1="1148.44" x2="921.11" y2="1142.69" stroke="#b8bce8" stroke-width="0.6" /><line x1="927.46" y1="1147.64" x2="925.52" y2="1140.39" stroke="#b8bce8" stroke-width="0.6" /><line x1="929.54" y1="1147.64" x2="931.48" y2="1140.39" stroke="#b8bce8" stroke-width="0.6" /><line x1="931.07" y1="1148.44" x2="935.89" y2="1142.69" stroke="#b8bce8" stroke-width="0.6" /><line x1="932.26" y1="1150.13" x2="939.31" y2="1147.57" stroke="#b8bce8" stroke-width="0.6" /><line x1="928.50" y1="1147.50" x2="928.50" y2="1140.00" stroke="#b8bce8" stroke-width="0.6" /><circle cx="928.50" cy="1150.50" r="11.50" fill="none" stroke="#9aa0dd" stroke-width="0.50"/><path d="M922.0,1156.0 L922.0,1151.0 Q928.5,1143.5 935.0,1151.0 L935.0,1156.0 Z" fill="#d0d4ee"/><circle cx="928.50" cy="1152.00" r="3.40" fill="#fff" stroke="#553355" stroke-width="0.50"/><path d="M919.5,1157.8 Q928.5,1160.5 937.5,1157.8" fill="none" stroke="#e8e8f4" stroke-width="1.60"/><text x="494.00" y="1383.28" font-size="6.5" fill="#fff" font-weight="bold">51</text><text x="509.70" y="1382.89" font-size="5.4" fill="#fff" textLength="34.00" lengthAdjust="spacingAndGlyphs">Business plan</text><text x="545.50" y="1382.89" font-size="5.4" fill="#fff">|</text><text x="549.50" y="1382.96" font-size="5.6" fill="#fff" font-weight="bold" textLength="30.00" lengthAdjust="spacingAndGlyphs">商业计划书</text><text x="838.80" y="1382.96" font-size="5.6" fill="#fff" textLength="52.50" lengthAdjust="spacingAndGlyphs">www.pptgenius.com</text><text x="892.70" y="1382.96" font-size="5.6" fill="#fff">|</text><text x="896.50" y="1382.96" font-size="5.6" fill="#fff" textLength="47.70" lengthAdjust="spacingAndGlyphs">内部资料 禁止外传</text></svg></div>
</body></html>
